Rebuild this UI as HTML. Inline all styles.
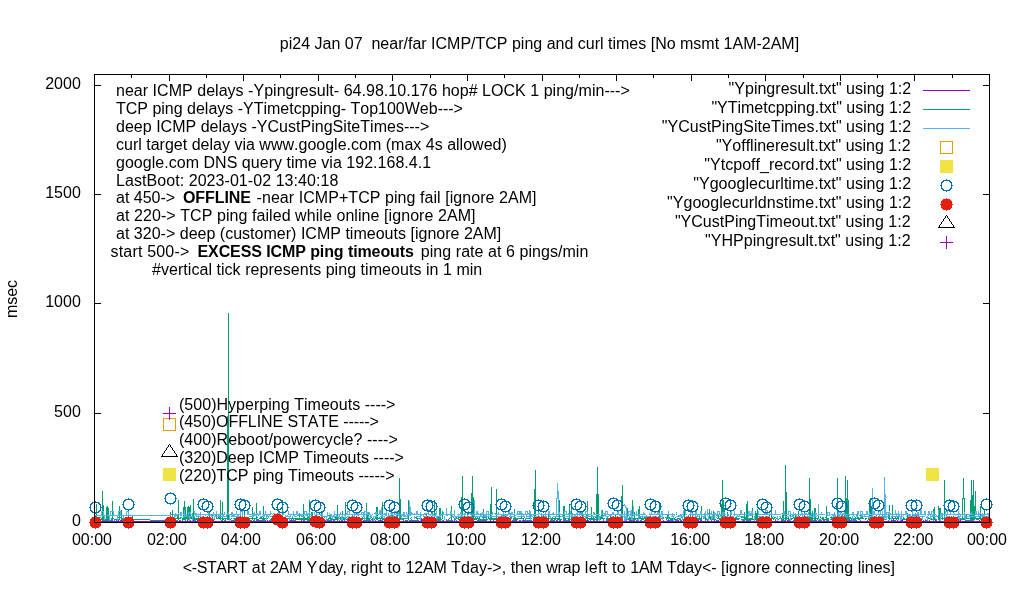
<!DOCTYPE html>
<html lang="en"><head><meta charset="utf-8"><title>pi24 ping plot</title>
<style>html,body{margin:0;padding:0;background:#fff}svg{display:block}text{font-family:"Liberation Sans",Arial,sans-serif;font-size:16px;fill:#000;font-kerning:none;font-variant-ligatures:none;white-space:pre}.b{font-weight:bold}</style></head><body>
<svg width="1020" height="600" viewBox="0 0 1020 600">
<rect x="0" y="0" width="1020" height="600" fill="#fff"/>
<g shape-rendering="crispEdges" stroke="#000" stroke-width="1" fill="none">
<path d="M94.5 523v-4M94.5 74v7M131.5 523v-4M131.5 74v4M169.5 523v-4M169.5 74v7M206.5 523v-4M206.5 74v4M243.5 523v-4M243.5 74v7M280.5 523v-4M280.5 74v4M318.5 523v-4M318.5 74v7M355.5 523v-4M355.5 74v4M392.5 523v-4M392.5 74v7M430.5 523v-4M430.5 74v4M467.5 523v-4M467.5 74v7M504.5 523v-4M504.5 74v4M542.5 523v-4M542.5 74v7M579.5 523v-4M579.5 74v4M616.5 523v-4M616.5 74v7M653.5 523v-4M653.5 74v4M691.5 523v-4M691.5 74v7M728.5 523v-4M728.5 74v4M765.5 523v-4M765.5 74v7M803.5 523v-4M803.5 74v4M840.5 523v-4M840.5 74v7M877.5 523v-4M877.5 74v4M914.5 523v-4M914.5 74v7M952.5 523v-4M952.5 74v4M989.5 523v-4M989.5 74v7M94 522.5h7M990 522.5h-7M94 413.5h7M990 413.5h-7M94 303.5h7M990 303.5h-7M94 194.5h7M990 194.5h-7M94 85.5h7M990 85.5h-7"/>
</g>
<g shape-rendering="crispEdges" fill="none" stroke-width="1">
<path d="M201.5 519V522M203.5 519V522M213.5 519V522M225.5 519V522M256.5 519V522M421.5 519V522M505.5 519V522M514.5 519V522M523.5 519V522M525.5 519V522M560.5 519V522M568.5 519V522M575.5 519V522M714.5 519V522M720.5 519V522M733.5 519V522M754.5 519V522M768.5 519V522M806.5 519V522M893.5 519V522M902.5 519V522M985.5 519V522M105 520.5H106M107 520.5H108M110 520.5H111M116 520.5H117M118 520.5H119M121 520.5H122M180 520.5H181M187 520.5H188M193 520.5H194M197 520.5H198M204 520.5H205M232 520.5H234M257 520.5H258M267 520.5H268M275 520.5H276M278 520.5H279M290 520.5H292M295 520.5H296M301 520.5H302M321 520.5H322M331 520.5H332M333 520.5H334M342 520.5H343M379 520.5H381M382 520.5H383M387 520.5H388M390 520.5H391M394 520.5H395M405 520.5H406M418 520.5H419M447 520.5H448M452 520.5H453M454 520.5H455M468 520.5H469M490 520.5H491M498 520.5H499M516 520.5H517M556 520.5H557M563 520.5H564M574 520.5H575M576 520.5H577M586 520.5H588M596 520.5H597M606 520.5H607M630 520.5H631M633 520.5H634M650 520.5H651M655 520.5H656M658 520.5H659M668 520.5H669M671 520.5H672M678 520.5H679M690 520.5H691M692 520.5H693M698 520.5H699M701 520.5H702M718 520.5H719M749 520.5H751M756 520.5H758M767 520.5H768M785 520.5H786M787 520.5H789M794 520.5H795M797 520.5H798M835 520.5H836M842 520.5H843M845 520.5H847M849 520.5H850M891 520.5H892M897 520.5H898M901 520.5H902M925 520.5H926M935 520.5H936M953 520.5H954M957 520.5H958M960 520.5H961M970 520.5H971M979 520.5H980M95 521.5H201M202 521.5H203M204 521.5H213M214 521.5H225M226 521.5H256M257 521.5H421M422 521.5H505M506 521.5H514M515 521.5H523M524 521.5H525M526 521.5H560M561 521.5H568M569 521.5H575M576 521.5H714M715 521.5H720M721 521.5H733M734 521.5H754M755 521.5H768M769 521.5H806M807 521.5H893M894 521.5H902M903 521.5H985M986 521.5H989" stroke="#9400d3"/>
<path d="M96.5 504V521M102.5 491V521M103.5 505V521M104.5 518V521M106.5 507V521M107.5 506V521M108.5 508V521M111.5 518V521M112.5 501V521M119.5 506V520M121.5 510V520M122.5 518V521M129.5 518V521M132.5 515V521M169.5 517V521M170.5 512V520M171.5 518V521M172.5 510V521M173.5 518V521M174.5 518V521M177.5 514V519M178.5 500V520M182.5 518V521M183.5 507V520M184.5 501V520M185.5 507V521M187.5 507V520M188.5 506V520M189.5 507V520M190.5 505V519M192.5 513V519M193.5 499V520M194.5 517V521M195.5 518V521M198.5 517V521M199.5 518V521M203.5 517V520M206.5 517V520M208.5 517V520M209.5 512V519M212.5 514V520M214.5 517V520M216.5 513V519M220.5 500V520M222.5 502V521M225.5 518V521M227.5 416V520M228.5 313V520M234.5 518V521M235.5 518V521M236.5 516V521M237.5 518V521M238.5 514V521M240.5 518V521M242.5 512V519M243.5 518V521M244.5 511V521M245.5 517V521M246.5 517V520M252.5 507V520M254.5 518V521M256.5 503V521M262.5 518V521M263.5 506V521M264.5 518V521M272.5 517V521M274.5 514V520M279.5 517V521M281.5 518V521M282.5 500V521M284.5 518V521M286.5 518V521M291.5 518V521M293.5 518V521M295.5 518V521M299.5 513V520M303.5 504V521M304.5 517V521M307.5 517V521M309.5 500V521M311.5 512V521M312.5 512V521M314.5 518V521M315.5 517V520M316.5 511V519M321.5 511V520M323.5 518V521M328.5 518V521M329.5 515V519M330.5 514V521M331.5 518V521M335.5 517V520M336.5 517V520M337.5 505V521M340.5 517V520M341.5 518V521M342.5 511V520M343.5 517V520M344.5 518V521M345.5 502V520M350.5 517V520M351.5 517V521M355.5 517V520M360.5 518V521M362.5 517V520M366.5 503V521M367.5 515V521M368.5 512V521M369.5 518V521M372.5 518V521M376.5 507V520M377.5 507V520M382.5 502V521M385.5 518V521M388.5 513V519M390.5 517V521M391.5 509V520M392.5 513V519M393.5 517V520M396.5 511V520M397.5 512V519M399.5 478V520M400.5 499V520M403.5 518V521M408.5 500V520M417.5 518V521M424.5 516V519M425.5 518V521M426.5 513V519M427.5 518V521M432.5 512V520M433.5 518V521M434.5 500V521M438.5 517V521M439.5 508V521M440.5 508V521M442.5 511V519M451.5 506V521M458.5 517V520M460.5 517V520M461.5 497V520M462.5 476V520M464.5 517V521M467.5 512V520M469.5 518V521M471.5 493V520M472.5 476V520M473.5 497V521M475.5 517V520M477.5 516V519M478.5 518V521M479.5 517V521M483.5 509V521M486.5 512V521M490.5 504V520M491.5 487V520M493.5 518V521M496.5 489V520M503.5 511V520M504.5 515V521M510.5 515V521M513.5 518V521M514.5 509V521M515.5 517V521M521.5 515V519M525.5 518V521M530.5 512V519M534.5 489V521M535.5 470V521M537.5 517V521M538.5 510V519M541.5 513V519M543.5 515V520M544.5 517V521M545.5 518V521M546.5 517V521M547.5 518V521M548.5 515V519M551.5 518V521M552.5 517V521M554.5 518V521M555.5 516V520M557.5 518V521M559.5 500V521M563.5 506V521M564.5 506V521M565.5 518V521M568.5 518V521M569.5 504V521M571.5 508V519M572.5 516V519M573.5 517V521M574.5 518V521M576.5 518V521M581.5 518V521M582.5 511V521M586.5 514V519M587.5 501V520M590.5 518V521M591.5 507V520M593.5 517V521M594.5 518V521M596.5 494V521M597.5 467V521M598.5 494V520M600.5 517V520M601.5 511V519M602.5 510V519M603.5 518V521M606.5 518V521M607.5 517V521M610.5 515V520M615.5 515V520M618.5 518V521M621.5 496V520M622.5 485V521M624.5 518V521M625.5 518V521M626.5 518V521M627.5 508V520M629.5 517V521M630.5 517V520M631.5 514V521M632.5 500V521M633.5 518V521M634.5 512V521M637.5 518V521M638.5 509V521M639.5 506V519M641.5 518V521M642.5 517V520M644.5 516V519M646.5 516V519M649.5 517V521M650.5 517V521M659.5 502V521M667.5 515V519M668.5 511V520M670.5 518V521M671.5 518V521M672.5 518V521M677.5 518V521M680.5 518V521M684.5 510V520M690.5 512V520M692.5 512V519M695.5 518V521M696.5 516V520M699.5 517V520M700.5 518V521M701.5 506V520M704.5 516V519M705.5 514V521M708.5 518V521M709.5 509V519M710.5 517V520M711.5 516V521M713.5 511V520M718.5 514V519M721.5 504V520M722.5 480V520M723.5 500V520M724.5 509V521M727.5 512V521M729.5 518V521M730.5 512V520M732.5 517V520M735.5 517V520M736.5 517V520M744.5 512V521M745.5 517V520M746.5 504V521M747.5 501V521M748.5 518V521M749.5 518V521M750.5 518V521M752.5 508V520M754.5 517V521M755.5 511V520M756.5 513V521M757.5 509V520M761.5 518V521M766.5 518V521M767.5 517V520M769.5 512V521M771.5 509V520M781.5 518V521M782.5 513V521M783.5 501V521M785.5 465V521M786.5 492V520M788.5 517V521M790.5 515V519M793.5 513V519M795.5 514V519M797.5 517V520M798.5 511V521M800.5 518V521M802.5 515V519M804.5 513V519M809.5 478V520M810.5 499V521M811.5 515V521M812.5 511V521M814.5 508V521M815.5 508V521M818.5 507V519M822.5 517V520M823.5 517V521M826.5 506V521M827.5 518V521M828.5 518V521M831.5 517V520M832.5 517V520M833.5 517V520M834.5 517V520M837.5 478V521M838.5 516V520M840.5 518V521M842.5 514V521M844.5 514V519M845.5 476V521M846.5 498V521M847.5 480V521M848.5 500V521M849.5 517V520M851.5 518V521M852.5 518V521M853.5 518V521M854.5 518V521M855.5 517V521M857.5 512V519M858.5 517V520M860.5 511V519M869.5 506V520M870.5 498V521M871.5 506V520M876.5 514V520M881.5 517V520M882.5 514V521M888.5 514V519M889.5 505V520M892.5 505V519M895.5 516V519M897.5 516V519M898.5 514V520M903.5 517V520M906.5 518V521M907.5 513V519M908.5 517V521M912.5 513V520M913.5 515V520M914.5 518V521M915.5 513V521M916.5 518V521M918.5 515V520M920.5 518V521M933.5 509V521M934.5 507V520M938.5 506V520M939.5 508V521M940.5 508V521M942.5 517V520M944.5 480V520M947.5 517V520M951.5 516V519M955.5 518V521M956.5 517V521M957.5 516V521M962.5 498V520M963.5 478V499M964.5 498V520M966.5 514V519M970.5 500V521M971.5 480V521M972.5 495V521M973.5 480V521M974.5 506V520M975.5 491V511M980.5 506V520M981.5 518V521M982.5 517V521M983.5 518V521M984.5 510V521M95 517.5H96M98 517.5H101M118 517.5H119M120 517.5H121M126 517.5H127M180 517.5H182M186 517.5H187M191 517.5H192M205 517.5H206M218 517.5H220M241 517.5H242M247 517.5H249M257 517.5H258M260 517.5H262M268 517.5H269M273 517.5H274M292 517.5H293M308 517.5H309M318 517.5H319M320 517.5H321M324 517.5H325M334 517.5H335M338 517.5H339M346 517.5H347M348 517.5H350M364 517.5H365M371 517.5H372M373 517.5H374M375 517.5H376M379 517.5H380M381 517.5H382M411 517.5H412M415 517.5H417M437 517.5H438M450 517.5H451M453 517.5H454M456 517.5H457M459 517.5H460M463 517.5H464M465 517.5H466M482 517.5H483M484 517.5H486M488 517.5H489M506 517.5H507M511 517.5H512M524 517.5H525M533 517.5H534M536 517.5H537M542 517.5H543M550 517.5H551M585 517.5H586M595 517.5H596M599 517.5H600M640 517.5H641M645 517.5H646M654 517.5H655M657 517.5H658M663 517.5H664M665 517.5H666M669 517.5H670M675 517.5H676M681 517.5H683M686 517.5H688M703 517.5H704M725 517.5H726M731 517.5H732M733 517.5H734M741 517.5H744M759 517.5H760M762 517.5H763M764 517.5H765M772 517.5H773M774 517.5H776M777 517.5H778M780 517.5H781M794 517.5H795M799 517.5H800M801 517.5H802M805 517.5H806M808 517.5H809M820 517.5H821M825 517.5H826M830 517.5H831M850 517.5H851M861 517.5H863M883 517.5H884M885 517.5H886M901 517.5H902M910 517.5H911M917 517.5H918M922 517.5H923M926 517.5H929M945 517.5H947M949 517.5H951M975 517.5H976M979 517.5H980M988 517.5H989M97 518.5H98M101 518.5H102M109 518.5H110M113 518.5H114M123 518.5H124M125 518.5H129M131 518.5H132M168 518.5H169M175 518.5H177M179 518.5H181M186 518.5H187M191 518.5H192M196 518.5H198M200 518.5H202M205 518.5H206M207 518.5H208M210 518.5H212M217 518.5H220M221 518.5H222M223 518.5H225M226 518.5H227M229 518.5H230M231 518.5H232M233 518.5H234M239 518.5H240M241 518.5H242M247 518.5H252M253 518.5H254M255 518.5H256M259 518.5H262M265 518.5H268M271 518.5H272M273 518.5H274M275 518.5H278M280 518.5H281M285 518.5H286M287 518.5H291M292 518.5H293M294 518.5H295M296 518.5H299M300 518.5H303M305 518.5H307M313 518.5H314M319 518.5H320M322 518.5H323M326 518.5H327M338 518.5H340M347 518.5H348M352 518.5H355M356 518.5H360M361 518.5H362M363 518.5H364M365 518.5H366M373 518.5H376M378 518.5H382M383 518.5H385M386 518.5H388M389 518.5H390M394 518.5H396M401 518.5H403M404 518.5H407M410 518.5H411M416 518.5H417M418 518.5H422M423 518.5H424M428 518.5H430M449 518.5H450M454 518.5H458M463 518.5H464M466 518.5H467M468 518.5H469M470 518.5H471M474 518.5H475M476 518.5H477M488 518.5H490M492 518.5H493M494 518.5H496M497 518.5H498M500 518.5H501M505 518.5H506M511 518.5H512M516 518.5H521M522 518.5H524M526 518.5H530M531 518.5H532M533 518.5H534M536 518.5H537M539 518.5H541M542 518.5H543M549 518.5H551M553 518.5H554M556 518.5H557M558 518.5H559M566 518.5H568M575 518.5H576M577 518.5H578M580 518.5H581M585 518.5H586M588 518.5H590M592 518.5H593M604 518.5H605M608 518.5H610M611 518.5H615M617 518.5H618M619 518.5H621M628 518.5H629M635 518.5H637M640 518.5H641M643 518.5H644M645 518.5H646M647 518.5H649M653 518.5H657M658 518.5H659M660 518.5H664M666 518.5H667M669 518.5H670M673 518.5H675M678 518.5H680M691 518.5H692M693 518.5H695M697 518.5H699M706 518.5H707M712 518.5H713M717 518.5H718M719 518.5H721M733 518.5H735M737 518.5H740M751 518.5H752M758 518.5H761M763 518.5H766M772 518.5H775M776 518.5H777M779 518.5H781M784 518.5H785M787 518.5H788M791 518.5H793M794 518.5H795M796 518.5H797M799 518.5H800M801 518.5H802M803 518.5H804M813 518.5H814M816 518.5H818M821 518.5H822M835 518.5H836M850 518.5H851M856 518.5H857M859 518.5H860M861 518.5H864M865 518.5H867M868 518.5H869M872 518.5H876M877 518.5H881M883 518.5H885M890 518.5H891M893 518.5H895M896 518.5H897M904 518.5H905M909 518.5H912M917 518.5H918M919 518.5H920M921 518.5H922M928 518.5H932M941 518.5H942M943 518.5H944M945 518.5H947M948 518.5H951M952 518.5H953M954 518.5H955M958 518.5H962M963 518.5H964M967 518.5H970M975 518.5H980M95 519.5H96M97 519.5H98M99 519.5H100M101 519.5H102M105 519.5H106M114 519.5H119M124 519.5H126M133 519.5H150M175 519.5H176M196 519.5H198M200 519.5H203M204 519.5H205M207 519.5H208M210 519.5H211M213 519.5H214M223 519.5H224M230 519.5H231M257 519.5H259M270 519.5H271M276 519.5H277M296 519.5H299M300 519.5H303M305 519.5H307M308 519.5H309M313 519.5H314M317 519.5H318M324 519.5H325M327 519.5H328M332 519.5H335M346 519.5H350M352 519.5H353M354 519.5H355M356 519.5H358M364 519.5H365M371 519.5H372M374 519.5H375M380 519.5H381M383 519.5H385M389 519.5H390M394 519.5H396M401 519.5H403M411 519.5H412M420 519.5H421M429 519.5H430M435 519.5H436M437 519.5H438M441 519.5H442M446 519.5H447M448 519.5H449M454 519.5H456M465 519.5H466M470 519.5H471M474 519.5H475M476 519.5H477M480 519.5H483M484 519.5H486M487 519.5H488M489 519.5H490M492 519.5H493M494 519.5H496M497 519.5H500M501 519.5H503M505 519.5H509M516 519.5H518M523 519.5H524M540 519.5H541M558 519.5H559M560 519.5H562M570 519.5H571M579 519.5H580M589 519.5H590M592 519.5H593M595 519.5H596M599 519.5H600M608 519.5H610M611 519.5H615M616 519.5H617M619 519.5H621M628 519.5H629M635 519.5H636M643 519.5H644M651 519.5H653M656 519.5H658M666 519.5H667M674 519.5H677M679 519.5H680M686 519.5H689M691 519.5H692M698 519.5H699M706 519.5H708M712 519.5H713M714 519.5H716M719 519.5H720M728 519.5H729M734 519.5H735M737 519.5H739M741 519.5H744M751 519.5H752M753 519.5H754M758 519.5H759M760 519.5H761M765 519.5H766M770 519.5H771M773 519.5H774M775 519.5H776M778 519.5H779M789 519.5H790M791 519.5H792M817 519.5H818M819 519.5H821M824 519.5H826M830 519.5H831M835 519.5H837M839 519.5H840M843 519.5H844M859 519.5H860M865 519.5H866M868 519.5H869M873 519.5H874M875 519.5H876M877 519.5H881M884 519.5H887M891 519.5H892M896 519.5H897M902 519.5H903M904 519.5H906M909 519.5H910M911 519.5H912M921 519.5H923M925 519.5H926M930 519.5H933M935 519.5H937M948 519.5H949M958 519.5H962M963 519.5H964M976 519.5H979M985 519.5H989M95 520.5H96M98 520.5H101M105 520.5H106M109 520.5H111M114 520.5H115M116 520.5H117M120 520.5H121M123 520.5H125M127 520.5H129M131 520.5H132M150 520.5H169M176 520.5H178M179 520.5H181M190 520.5H191M192 520.5H193M205 520.5H206M211 520.5H212M221 520.5H222M224 520.5H225M231 520.5H234M242 520.5H243M249 520.5H252M253 520.5H254M258 520.5H262M265 520.5H266M269 520.5H272M273 520.5H274M275 520.5H276M277 520.5H278M280 520.5H281M283 520.5H284M287 520.5H288M292 520.5H293M294 520.5H295M308 520.5H309M310 520.5H311M318 520.5H319M320 520.5H321M325 520.5H326M327 520.5H328M329 520.5H330M333 520.5H335M339 520.5H340M348 520.5H350M363 520.5H366M370 520.5H371M373 520.5H374M375 520.5H376M378 520.5H380M381 520.5H382M386 520.5H389M392 520.5H393M397 520.5H398M405 520.5H408M409 520.5H417M418 520.5H419M423 520.5H424M426 520.5H427M428 520.5H429M435 520.5H436M437 520.5H438M442 520.5H444M446 520.5H451M452 520.5H453M456 520.5H457M465 520.5H467M477 520.5H478M480 520.5H483M484 520.5H486M498 520.5H499M502 520.5H503M506 520.5H507M512 520.5H513M519 520.5H521M522 520.5H523M524 520.5H525M526 520.5H532M536 520.5H537M538 520.5H540M541 520.5H542M548 520.5H549M550 520.5H551M553 520.5H554M566 520.5H568M572 520.5H573M577 520.5H580M583 520.5H584M585 520.5H587M588 520.5H589M636 520.5H637M640 520.5H641M644 520.5H649M651 520.5H653M660 520.5H661M663 520.5H664M667 520.5H668M669 520.5H670M673 520.5H674M675 520.5H677M681 520.5H682M683 520.5H684M692 520.5H695M707 520.5H708M716 520.5H718M725 520.5H727M728 520.5H729M733 520.5H734M742 520.5H744M759 520.5H760M763 520.5H765M768 520.5H769M775 520.5H776M784 520.5H785M789 520.5H790M793 520.5H795M799 520.5H800M801 520.5H804M808 520.5H809M813 520.5H814M816 520.5H817M818 520.5H822M824 520.5H825M836 520.5H837M843 520.5H845M850 520.5H851M856 520.5H857M860 520.5H861M867 520.5H868M888 520.5H889M892 520.5H893M894 520.5H896M907 520.5H908M917 520.5H918M923 520.5H924M926 520.5H927M929 520.5H930M936 520.5H937M950 520.5H952M953 520.5H954M965 520.5H970M985 520.5H987" stroke="#009e73"/>
<path d="M101.5 511V516M103.5 511V516M104.5 515V520M109.5 515V521M110.5 511V516M113.5 511V516M117.5 515V521M118.5 511V516M120.5 511V516M123.5 515V519M126.5 511V516M128.5 511V516M174.5 514V521M175.5 513V517M180.5 512V516M181.5 512V516M184.5 510V517M186.5 514V517M188.5 512V515M189.5 516V521M190.5 512V515M192.5 516V521M194.5 511V515M195.5 513V516M196.5 513V517M198.5 514V517M200.5 512V520M202.5 516V520M208.5 511V516M211.5 514V517M213.5 512V516M214.5 516V519M215.5 514V517M216.5 511V515M218.5 514V517M219.5 514V517M222.5 514V517M223.5 514V517M224.5 512V515M226.5 514V517M228.5 512V515M229.5 514V521M231.5 512V517M232.5 512V517M233.5 514V517M234.5 514V517M236.5 511V515M237.5 514V517M238.5 514V517M240.5 511V516M242.5 511V516M247.5 511V515M248.5 511V515M252.5 514V517M253.5 513V517M254.5 512V516M256.5 513V516M259.5 511V515M260.5 511V515M263.5 514V517M264.5 514V517M265.5 511V515M266.5 514V520M267.5 514V517M270.5 511V515M275.5 514V517M277.5 514V517M278.5 511V515M279.5 511V515M283.5 511V515M288.5 511V515M289.5 516V521M290.5 514V517M293.5 511V516M294.5 514V517M296.5 511V515M297.5 511V516M301.5 514V517M302.5 514V517M304.5 511V515M306.5 511V516M307.5 513V517M309.5 512V515M314.5 512V515M318.5 516V521M322.5 511V517M326.5 516V521M327.5 512V517M331.5 514V517M332.5 516V519M334.5 511V517M336.5 514V517M338.5 516V520M339.5 514V517M340.5 512V515M341.5 516V520M342.5 514V520M345.5 514V520M347.5 511V515M349.5 511V515M349.5 516V519M352.5 514V517M354.5 512V517M357.5 513V516M358.5 513V516M361.5 512V515M363.5 512V517M364.5 511V520M366.5 511V515M367.5 512V515M369.5 512V515M370.5 514V519M373.5 516V521M375.5 512V515M376.5 512V515M379.5 510V515M380.5 510V515M381.5 507V517M382.5 514V517M384.5 516V519M385.5 513V516M386.5 511V516M388.5 514V517M394.5 511V515M395.5 516V521M396.5 511V516M398.5 511V516M401.5 514V520M403.5 512V517M404.5 512V517M406.5 512V515M407.5 514V519M409.5 501V516M410.5 507V516M411.5 512V515M414.5 516V519M416.5 511V515M417.5 511V515M420.5 512V521M423.5 514V517M428.5 511V515M431.5 511V515M432.5 514V517M435.5 513V517M436.5 511V515M436.5 516V521M440.5 514V517M443.5 512V515M444.5 516V520M446.5 508V516M450.5 511V516M451.5 511V515M452.5 514V517M454.5 510V517M455.5 516V519M458.5 514V517M460.5 512V515M461.5 512V515M461.5 516V521M462.5 514V517M464.5 513V517M465.5 512V515M468.5 511V515M471.5 514V517M474.5 500V517M476.5 511V515M477.5 511V515M480.5 513V517M481.5 513V517M482.5 512V515M483.5 512V515M484.5 514V517M485.5 514V517M486.5 511V517M488.5 511V517M491.5 514V517M492.5 512V515M498.5 512V515M502.5 514V520M503.5 512V515M504.5 514V517M506.5 514V517M508.5 511V515M509.5 511V515M510.5 513V517M511.5 512V515M512.5 512V515M517.5 511V515M519.5 511V515M520.5 511V515M521.5 511V517M523.5 514V517M525.5 511V515M526.5 514V519M527.5 511V515M529.5 510V518M530.5 511V515M530.5 516V520M531.5 514V517M536.5 516V520M538.5 511V517M542.5 516V520M545.5 512V517M546.5 516V520M548.5 511V515M549.5 511V517M550.5 516V520M553.5 512V515M556.5 498V517M557.5 483V499M558.5 491V517M559.5 512V515M562.5 514V517M564.5 511V515M566.5 511V515M570.5 511V515M571.5 514V517M572.5 513V517M574.5 514V517M575.5 514V517M577.5 512V517M579.5 512V516M580.5 516V521M581.5 512V516M583.5 514V517M585.5 511V515M585.5 516V520M587.5 511V515M588.5 514V517M593.5 512V515M594.5 512V515M598.5 516V520M599.5 516V521M601.5 510V515M604.5 513V516M605.5 511V517M607.5 511V515M612.5 512V515M612.5 516V519M613.5 512V515M617.5 511V515M618.5 511V515M620.5 514V521M624.5 511V521M625.5 505V508M625.5 516V521M626.5 507V519M627.5 516V520M628.5 511V516M630.5 511V516M631.5 510V520M632.5 516V520M633.5 506V516M636.5 511V516M638.5 514V521M642.5 514V517M643.5 512V515M649.5 516V521M650.5 514V517M651.5 511V515M654.5 512V515M657.5 512V515M658.5 512V515M660.5 514V519M661.5 511V515M662.5 511V520M668.5 511V515M672.5 513V517M673.5 516V521M676.5 512V515M680.5 514V517M681.5 514V517M682.5 516V520M683.5 510V517M685.5 510V515M690.5 512V515M692.5 512V516M695.5 510V517M696.5 510V515M697.5 514V517M699.5 514V517M700.5 511V515M701.5 511V517M703.5 516V519M704.5 513V519M705.5 511V516M707.5 509V516M708.5 516V521M711.5 511V515M711.5 516V520M712.5 514V519M714.5 512V519M717.5 511V517M719.5 511V515M720.5 514V517M722.5 512V516M723.5 516V521M724.5 512V515M730.5 511V515M731.5 511V515M731.5 516V521M734.5 511V516M737.5 514V517M739.5 514V517M740.5 510V515M741.5 510V515M748.5 511V517M749.5 511V516M750.5 513V516M751.5 511V516M752.5 511V515M754.5 516V521M758.5 511V515M765.5 510V515M765.5 516V521M767.5 510V515M769.5 511V515M775.5 510V515M777.5 516V521M783.5 511V515M784.5 511V516M788.5 511V515M790.5 511V515M790.5 516V521M792.5 514V517M793.5 512V515M796.5 514V517M801.5 512V515M802.5 513V521M804.5 516V521M807.5 514V517M808.5 512V515M813.5 513V517M815.5 512V517M818.5 504V516M821.5 512V515M827.5 512V516M829.5 512V516M833.5 514V517M834.5 512V517M835.5 514V517M838.5 512V517M839.5 514V517M840.5 512V515M841.5 514V517M843.5 516V521M844.5 510V515M845.5 514V517M852.5 512V515M852.5 516V521M853.5 512V516M856.5 514V517M857.5 511V515M858.5 511V515M860.5 511V515M861.5 514V517M862.5 511V517M864.5 514V517M866.5 511V515M867.5 511V515M869.5 512V515M869.5 516V519M872.5 488V517M873.5 511V515M874.5 511V515M878.5 511V515M879.5 514V517M880.5 511V515M882.5 511V515M884.5 477V520M885.5 494V518M886.5 512V515M886.5 516V520M888.5 512V515M889.5 511V515M891.5 516V520M895.5 510V515M896.5 513V517M898.5 511V517M899.5 514V517M900.5 516V521M901.5 511V520M905.5 511V515M906.5 511V515M908.5 514V517M909.5 514V517M910.5 514V517M912.5 511V515M913.5 514V517M914.5 514V517M916.5 514V520M917.5 512V520M918.5 512V515M920.5 510V515M921.5 510V515M922.5 516V520M924.5 511V515M925.5 511V516M927.5 516V521M928.5 511V516M929.5 511V515M930.5 514V520M931.5 511V515M932.5 514V517M933.5 511V517M938.5 510V515M940.5 513V521M941.5 513V517M942.5 513V517M945.5 511V515M946.5 514V517M947.5 511V515M950.5 512V515M958.5 511V521M959.5 516V521M960.5 514V517M964.5 512V519M965.5 514V520M969.5 514V517M971.5 512V515M975.5 511V515M976.5 511V515M978.5 511V517M981.5 514V517M982.5 513V517M983.5 514V520M984.5 514V517M988.5 513V517M624 504.5H625M624 505.5H625M684 510.5H685M766 510.5H767M102 511.5H103M111 511.5H113M119 511.5H120M127 511.5H128M241 511.5H242M305 511.5H306M348 511.5H349M365 511.5H366M395 511.5H396M487 511.5H488M518 511.5H519M526 511.5H527M565 511.5H566M586 511.5H587M606 511.5H607M629 511.5H630M718 511.5H719M789 511.5H790M861 511.5H862M879 511.5H880M932 511.5H933M946 511.5H947M189 512.5H190M362 512.5H363M368 512.5H369M578 512.5H579M691 512.5H692M723 512.5H724M828 512.5H829M839 512.5H840M887 512.5H888M178 513.5H179M221 513.5H222M257 513.5H258M271 513.5H272M273 513.5H275M308 513.5H309M316 513.5H317M329 513.5H330M346 513.5H347M355 513.5H357M374 513.5H375M384 513.5H385M390 513.5H393M412 513.5H413M414 513.5H415M424 513.5H428M469 513.5H471M478 513.5H479M494 513.5H496M514 513.5H515M518 513.5H519M522 513.5H523M528 513.5H529M539 513.5H540M541 513.5H542M552 513.5H553M568 513.5H569M576 513.5H577M580 513.5H581M602 513.5H604M644 513.5H645M649 513.5H650M659 513.5H660M708 513.5H709M710 513.5H711M715 513.5H716M764 513.5H765M795 513.5H796M804 513.5H807M811 513.5H812M816 513.5H817M842 513.5H844M890 513.5H891M954 513.5H955M959 513.5H960M970 513.5H971M979 513.5H981M987 513.5H988M171 514.5H172M173 514.5H174M176 514.5H180M183 514.5H184M185 514.5H186M191 514.5H193M197 514.5H198M199 514.5H200M201 514.5H208M209 514.5H211M212 514.5H213M214 514.5H215M217 514.5H218M220 514.5H222M227 514.5H228M230 514.5H231M235 514.5H236M239 514.5H240M249 514.5H252M255 514.5H256M257 514.5H259M262 514.5H263M268 514.5H270M272 514.5H273M276 514.5H277M280 514.5H281M282 514.5H283M289 514.5H290M291 514.5H293M295 514.5H296M298 514.5H301M303 514.5H304M305 514.5H306M308 514.5H309M310 514.5H312M316 514.5H322M330 514.5H331M335 514.5H336M337 514.5H339M341 514.5H342M343 514.5H345M346 514.5H347M348 514.5H349M350 514.5H352M353 514.5H354M355 514.5H357M359 514.5H361M362 514.5H363M365 514.5H366M368 514.5H369M372 514.5H373M377 514.5H379M383 514.5H385M391 514.5H393M395 514.5H396M397 514.5H398M399 514.5H401M402 514.5H403M408 514.5H409M412 514.5H416M418 514.5H420M421 514.5H423M424 514.5H426M429 514.5H431M433 514.5H434M441 514.5H443M444 514.5H446M447 514.5H450M453 514.5H454M457 514.5H458M459 514.5H460M463 514.5H464M470 514.5H471M472 514.5H474M475 514.5H476M478 514.5H480M487 514.5H488M489 514.5H491M495 514.5H498M499 514.5H502M505 514.5H506M507 514.5H508M513 514.5H515M516 514.5H517M518 514.5H519M522 514.5H523M524 514.5H525M528 514.5H529M532 514.5H538M540 514.5H545M546 514.5H548M550 514.5H553M554 514.5H556M557 514.5H558M560 514.5H562M563 514.5H564M565 514.5H566M567 514.5H570M573 514.5H574M576 514.5H577M578 514.5H579M580 514.5H581M582 514.5H583M584 514.5H585M586 514.5H587M589 514.5H592M595 514.5H600M606 514.5H607M608 514.5H612M614 514.5H617M619 514.5H620M621 514.5H624M625 514.5H626M627 514.5H628M629 514.5H630M632 514.5H633M634 514.5H636M637 514.5H638M639 514.5H642M644 514.5H646M649 514.5H650M652 514.5H654M655 514.5H657M659 514.5H660M663 514.5H668M669 514.5H672M673 514.5H675M682 514.5H683M686 514.5H687M689 514.5H690M691 514.5H692M693 514.5H695M698 514.5H699M702 514.5H704M706 514.5H707M708 514.5H711M713 514.5H714M715 514.5H717M718 514.5H719M721 514.5H722M723 514.5H724M725 514.5H726M727 514.5H729M733 514.5H734M735 514.5H737M738 514.5H739M742 514.5H748M753 514.5H755M759 514.5H765M766 514.5H767M768 514.5H769M770 514.5H775M776 514.5H781M782 514.5H783M785 514.5H788M791 514.5H792M794 514.5H796M797 514.5H801M803 514.5H807M811 514.5H813M814 514.5H815M816 514.5H817M819 514.5H821M822 514.5H825M826 514.5H827M830 514.5H833M837 514.5H838M842 514.5H844M846 514.5H852M854 514.5H856M863 514.5H864M865 514.5H866M868 514.5H869M870 514.5H872M875 514.5H878M881 514.5H882M883 514.5H884M887 514.5H888M890 514.5H895M897 514.5H898M900 514.5H901M902 514.5H905M907 514.5H908M915 514.5H916M919 514.5H920M922 514.5H924M927 514.5H928M934 514.5H936M943 514.5H945M948 514.5H950M951 514.5H958M959 514.5H960M961 514.5H964M966 514.5H969M970 514.5H971M972 514.5H974M977 514.5H978M979 514.5H980M985 514.5H988M95 515.5H101M102 515.5H103M105 515.5H109M111 515.5H113M114 515.5H117M119 515.5H120M121 515.5H123M124 515.5H126M127 515.5H128M129 515.5H171M176 515.5H178M187 515.5H188M205 515.5H206M210 515.5H211M244 515.5H245M255 515.5H256M258 515.5H259M269 515.5H270M274 515.5H275M282 515.5H283M285 515.5H286M287 515.5H288M298 515.5H299M300 515.5H301M305 515.5H306M320 515.5H322M328 515.5H329M333 515.5H334M344 515.5H345M371 515.5H372M389 515.5H391M393 515.5H394M402 515.5H403M405 515.5H406M408 515.5H409M421 515.5H422M430 515.5H431M433 515.5H435M439 515.5H440M441 515.5H442M447 515.5H448M467 515.5H468M501 515.5H502M505 515.5H506M507 515.5H508M515 515.5H516M533 515.5H534M592 515.5H593M603 515.5H604M609 515.5H612M619 515.5H620M621 515.5H623M637 515.5H638M646 515.5H647M674 515.5H675M678 515.5H680M688 515.5H689M693 515.5H694M716 515.5H717M728 515.5H729M789 515.5H790M800 515.5H801M809 515.5H811M817 515.5H818M828 515.5H829M832 515.5H833M849 515.5H850M859 515.5H860M903 515.5H904M936 515.5H937M955 515.5H956M962 515.5H963M183 516.5H184M185 516.5H186M188 516.5H189M190 516.5H192M194 516.5H195M197 516.5H198M199 516.5H200M207 516.5H208M212 516.5H213M216 516.5H218M220 516.5H222M224 516.5H226M235 516.5H237M239 516.5H240M249 516.5H252M260 516.5H263M268 516.5H269M270 516.5H274M276 516.5H277M278 516.5H280M285 516.5H289M292 516.5H293M295 516.5H297M303 516.5H305M308 516.5H312M314 516.5H318M319 516.5H320M323 516.5H326M329 516.5H331M333 516.5H334M335 516.5H336M337 516.5H338M347 516.5H349M351 516.5H352M353 516.5H354M356 516.5H357M361 516.5H362M366 516.5H367M368 516.5H370M371 516.5H372M374 516.5H378M380 516.5H381M383 516.5H384M387 516.5H388M389 516.5H392M393 516.5H395M399 516.5H400M405 516.5H407M416 516.5H420M424 516.5H430M431 516.5H432M434 516.5H435M437 516.5H440M453 516.5H454M456 516.5H458M459 516.5H461M463 516.5H464M465 516.5H471M475 516.5H480M482 516.5H484M487 516.5H488M489 516.5H491M492 516.5H501M503 516.5H504M509 516.5H510M511 516.5H515M517 516.5H521M522 516.5H523M524 516.5H525M527 516.5H529M532 516.5H533M535 516.5H536M537 516.5H538M539 516.5H540M543 516.5H545M553 516.5H556M557 516.5H558M560 516.5H562M563 516.5H571M573 516.5H574M576 516.5H577M584 516.5H585M586 516.5H588M589 516.5H597M600 516.5H604M606 516.5H609M623 516.5H624M629 516.5H630M639 516.5H642M643 516.5H649M652 516.5H657M658 516.5H659M661 516.5H662M668 516.5H669M671 516.5H672M676 516.5H680M686 516.5H688M696 516.5H697M698 516.5H699M702 516.5H703M710 516.5H711M713 516.5H714M715 516.5H716M719 516.5H720M721 516.5H722M724 516.5H728M729 516.5H731M732 516.5H734M736 516.5H737M738 516.5H739M740 516.5H744M758 516.5H762M763 516.5H764M767 516.5H770M773 516.5H774M779 516.5H781M786 516.5H789M791 516.5H792M793 516.5H794M797 516.5H800M803 516.5H804M805 516.5H807M808 516.5H813M814 516.5H815M816 516.5H817M820 516.5H821M831 516.5H832M836 516.5H838M840 516.5H841M846 516.5H848M854 516.5H855M857 516.5H858M860 516.5H861M863 516.5H864M865 516.5H869M870 516.5H872M873 516.5H877M880 516.5H884M887 516.5H889M892 516.5H896M897 516.5H898M902 516.5H903M906 516.5H907M912 516.5H913M915 516.5H916M918 516.5H922M923 516.5H925M931 516.5H932M934 516.5H938M939 516.5H940M944 516.5H945M947 516.5H950M953 516.5H954M957 516.5H958M966 516.5H969M970 516.5H978M979 516.5H981M985 516.5H988M244 517.5H245M299 517.5H300M313 517.5H314M321 517.5H322M344 517.5H345M368 517.5H369M397 517.5H398M428 517.5H429M630 517.5H631M666 517.5H667M716 517.5H717M868 517.5H869M945 517.5H946M308 518.5H309M353 518.5H354M374 518.5H375M425 518.5H426M437 518.5H438M466 518.5H467M500 518.5H501M508 518.5H509M525 518.5H526M567 518.5H568M579 518.5H580M668 518.5H669M695 518.5H696M733 518.5H734M762 518.5H763M768 518.5H769M780 518.5H781M782 518.5H783M793 518.5H794M835 518.5H836M837 518.5H838M854 518.5H855M882 518.5H883M909 518.5H910M918 518.5H919M921 518.5H922M935 518.5H936M961 518.5H962" stroke="#56b4e9"/>
</g>
<rect x="163.5" y="418.5" width="12" height="12" fill="none" stroke="#e69f00" stroke-width="1" shape-rendering="crispEdges"/>
<rect x="163.0" y="468.0" width="13" height="13" fill="#f0e442" shape-rendering="crispEdges"/>
<rect x="926.0" y="468.0" width="13" height="13" fill="#f0e442" shape-rendering="crispEdges"/>
<path d="M99 502L99 503L100 503L100 504L101 504L101 505L101 505L101 506L101 506L101 507L101 507L101 508L101 508L101 509L101 509L101 510L101 510L101 511L100 511L100 512L99 512L99 513L92 513L92 512L91 512L91 511L90 511L90 510L90 510L90 509L90 509L90 508L90 508L90 507L90 507L90 506L90 506L90 505L90 505L90 504L91 504L91 503L92 503L92 502ZM98 503L98 504L99 504L99 505L100 505L100 506L100 506L100 507L100 507L100 508L100 508L100 509L100 509L100 510L99 510L99 511L98 511L98 512L93 512L93 511L92 511L92 510L91 510L91 509L91 509L91 508L91 508L91 507L91 507L91 506L91 506L91 505L92 505L92 504L93 504L93 503ZM89 507h1v1h-1zM101 507h1v1h-1zM95 501h1v1h-1zM95 513h1v1h-1z" fill="#0072b2" fill-rule="evenodd" shape-rendering="crispEdges"/>
<path d="M132 499L132 500L133 500L133 501L134 501L134 502L134 502L134 503L134 503L134 504L134 504L134 505L134 505L134 506L134 506L134 507L134 507L134 508L133 508L133 509L132 509L132 510L125 510L125 509L124 509L124 508L123 508L123 507L123 507L123 506L123 506L123 505L123 505L123 504L123 504L123 503L123 503L123 502L123 502L123 501L124 501L124 500L125 500L125 499ZM131 500L131 501L132 501L132 502L133 502L133 503L133 503L133 504L133 504L133 505L133 505L133 506L133 506L133 507L132 507L132 508L131 508L131 509L126 509L126 508L125 508L125 507L124 507L124 506L124 506L124 505L124 505L124 504L124 504L124 503L124 503L124 502L125 502L125 501L126 501L126 500ZM122 504h1v1h-1zM134 504h1v1h-1zM128 498h1v1h-1zM128 510h1v1h-1z" fill="#0072b2" fill-rule="evenodd" shape-rendering="crispEdges"/>
<path d="M174 493L174 494L175 494L175 495L176 495L176 496L176 496L176 497L176 497L176 498L176 498L176 499L176 499L176 500L176 500L176 501L176 501L176 502L175 502L175 503L174 503L174 504L167 504L167 503L166 503L166 502L165 502L165 501L165 501L165 500L165 500L165 499L165 499L165 498L165 498L165 497L165 497L165 496L165 496L165 495L166 495L166 494L167 494L167 493ZM173 494L173 495L174 495L174 496L175 496L175 497L175 497L175 498L175 498L175 499L175 499L175 500L175 500L175 501L174 501L174 502L173 502L173 503L168 503L168 502L167 502L167 501L166 501L166 500L166 500L166 499L166 499L166 498L166 498L166 497L166 497L166 496L167 496L167 495L168 495L168 494ZM164 498h1v1h-1zM176 498h1v1h-1zM170 492h1v1h-1zM170 504h1v1h-1z" fill="#0072b2" fill-rule="evenodd" shape-rendering="crispEdges"/>
<path d="M207 499L207 500L208 500L208 501L209 501L209 502L209 502L209 503L209 503L209 504L209 504L209 505L209 505L209 506L209 506L209 507L209 507L209 508L208 508L208 509L207 509L207 510L200 510L200 509L199 509L199 508L198 508L198 507L198 507L198 506L198 506L198 505L198 505L198 504L198 504L198 503L198 503L198 502L198 502L198 501L199 501L199 500L200 500L200 499ZM206 500L206 501L207 501L207 502L208 502L208 503L208 503L208 504L208 504L208 505L208 505L208 506L208 506L208 507L207 507L207 508L206 508L206 509L201 509L201 508L200 508L200 507L199 507L199 506L199 506L199 505L199 505L199 504L199 504L199 503L199 503L199 502L200 502L200 501L201 501L201 500ZM197 504h1v1h-1zM209 504h1v1h-1zM203 498h1v1h-1zM203 510h1v1h-1z" fill="#0072b2" fill-rule="evenodd" shape-rendering="crispEdges"/>
<path d="M211 501L211 502L212 502L212 503L213 503L213 504L213 504L213 505L213 505L213 506L213 506L213 507L213 507L213 508L213 508L213 509L213 509L213 510L212 510L212 511L211 511L211 512L204 512L204 511L203 511L203 510L202 510L202 509L202 509L202 508L202 508L202 507L202 507L202 506L202 506L202 505L202 505L202 504L202 504L202 503L203 503L203 502L204 502L204 501ZM210 502L210 503L211 503L211 504L212 504L212 505L212 505L212 506L212 506L212 507L212 507L212 508L212 508L212 509L211 509L211 510L210 510L210 511L205 511L205 510L204 510L204 509L203 509L203 508L203 508L203 507L203 507L203 506L203 506L203 505L203 505L203 504L204 504L204 503L205 503L205 502ZM201 506h1v1h-1zM213 506h1v1h-1zM207 500h1v1h-1zM207 512h1v1h-1z" fill="#0072b2" fill-rule="evenodd" shape-rendering="crispEdges"/>
<path d="M244 499L244 500L245 500L245 501L246 501L246 502L246 502L246 503L246 503L246 504L246 504L246 505L246 505L246 506L246 506L246 507L246 507L246 508L245 508L245 509L244 509L244 510L237 510L237 509L236 509L236 508L235 508L235 507L235 507L235 506L235 506L235 505L235 505L235 504L235 504L235 503L235 503L235 502L235 502L235 501L236 501L236 500L237 500L237 499ZM243 500L243 501L244 501L244 502L245 502L245 503L245 503L245 504L245 504L245 505L245 505L245 506L245 506L245 507L244 507L244 508L243 508L243 509L238 509L238 508L237 508L237 507L236 507L236 506L236 506L236 505L236 505L236 504L236 504L236 503L236 503L236 502L237 502L237 501L238 501L238 500ZM234 504h1v1h-1zM246 504h1v1h-1zM240 498h1v1h-1zM240 510h1v1h-1z" fill="#0072b2" fill-rule="evenodd" shape-rendering="crispEdges"/>
<path d="M248 500L248 501L249 501L249 502L250 502L250 503L250 503L250 504L250 504L250 505L250 505L250 506L250 506L250 507L250 507L250 508L250 508L250 509L249 509L249 510L248 510L248 511L241 511L241 510L240 510L240 509L239 509L239 508L239 508L239 507L239 507L239 506L239 506L239 505L239 505L239 504L239 504L239 503L239 503L239 502L240 502L240 501L241 501L241 500ZM247 501L247 502L248 502L248 503L249 503L249 504L249 504L249 505L249 505L249 506L249 506L249 507L249 507L249 508L248 508L248 509L247 509L247 510L242 510L242 509L241 509L241 508L240 508L240 507L240 507L240 506L240 506L240 505L240 505L240 504L240 504L240 503L241 503L241 502L242 502L242 501ZM238 505h1v1h-1zM250 505h1v1h-1zM244 499h1v1h-1zM244 511h1v1h-1z" fill="#0072b2" fill-rule="evenodd" shape-rendering="crispEdges"/>
<path d="M281 499L281 500L282 500L282 501L283 501L283 502L283 502L283 503L283 503L283 504L283 504L283 505L283 505L283 506L283 506L283 507L283 507L283 508L282 508L282 509L281 509L281 510L274 510L274 509L273 509L273 508L272 508L272 507L272 507L272 506L272 506L272 505L272 505L272 504L272 504L272 503L272 503L272 502L272 502L272 501L273 501L273 500L274 500L274 499ZM280 500L280 501L281 501L281 502L282 502L282 503L282 503L282 504L282 504L282 505L282 505L282 506L282 506L282 507L281 507L281 508L280 508L280 509L275 509L275 508L274 508L274 507L273 507L273 506L273 506L273 505L273 505L273 504L273 504L273 503L273 503L273 502L274 502L274 501L275 501L275 500ZM271 504h1v1h-1zM283 504h1v1h-1zM277 498h1v1h-1zM277 510h1v1h-1z" fill="#0072b2" fill-rule="evenodd" shape-rendering="crispEdges"/>
<path d="M286 502L286 503L287 503L287 504L288 504L288 505L288 505L288 506L288 506L288 507L288 507L288 508L288 508L288 509L288 509L288 510L288 510L288 511L287 511L287 512L286 512L286 513L279 513L279 512L278 512L278 511L277 511L277 510L277 510L277 509L277 509L277 508L277 508L277 507L277 507L277 506L277 506L277 505L277 505L277 504L278 504L278 503L279 503L279 502ZM285 503L285 504L286 504L286 505L287 505L287 506L287 506L287 507L287 507L287 508L287 508L287 509L287 509L287 510L286 510L286 511L285 511L285 512L280 512L280 511L279 511L279 510L278 510L278 509L278 509L278 508L278 508L278 507L278 507L278 506L278 506L278 505L279 505L279 504L280 504L280 503ZM276 507h1v1h-1zM288 507h1v1h-1zM282 501h1v1h-1zM282 513h1v1h-1z" fill="#0072b2" fill-rule="evenodd" shape-rendering="crispEdges"/>
<path d="M319 500L319 501L320 501L320 502L321 502L321 503L321 503L321 504L321 504L321 505L321 505L321 506L321 506L321 507L321 507L321 508L321 508L321 509L320 509L320 510L319 510L319 511L312 511L312 510L311 510L311 509L310 509L310 508L310 508L310 507L310 507L310 506L310 506L310 505L310 505L310 504L310 504L310 503L310 503L310 502L311 502L311 501L312 501L312 500ZM318 501L318 502L319 502L319 503L320 503L320 504L320 504L320 505L320 505L320 506L320 506L320 507L320 507L320 508L319 508L319 509L318 509L318 510L313 510L313 509L312 509L312 508L311 508L311 507L311 507L311 506L311 506L311 505L311 505L311 504L311 504L311 503L312 503L312 502L313 502L313 501ZM309 505h1v1h-1zM321 505h1v1h-1zM315 499h1v1h-1zM315 511h1v1h-1z" fill="#0072b2" fill-rule="evenodd" shape-rendering="crispEdges"/>
<path d="M323 502L323 503L324 503L324 504L325 504L325 505L325 505L325 506L325 506L325 507L325 507L325 508L325 508L325 509L325 509L325 510L325 510L325 511L324 511L324 512L323 512L323 513L316 513L316 512L315 512L315 511L314 511L314 510L314 510L314 509L314 509L314 508L314 508L314 507L314 507L314 506L314 506L314 505L314 505L314 504L315 504L315 503L316 503L316 502ZM322 503L322 504L323 504L323 505L324 505L324 506L324 506L324 507L324 507L324 508L324 508L324 509L324 509L324 510L323 510L323 511L322 511L322 512L317 512L317 511L316 511L316 510L315 510L315 509L315 509L315 508L315 508L315 507L315 507L315 506L315 506L315 505L316 505L316 504L317 504L317 503ZM313 507h1v1h-1zM325 507h1v1h-1zM319 501h1v1h-1zM319 513h1v1h-1z" fill="#0072b2" fill-rule="evenodd" shape-rendering="crispEdges"/>
<path d="M356 500L356 501L357 501L357 502L358 502L358 503L358 503L358 504L358 504L358 505L358 505L358 506L358 506L358 507L358 507L358 508L358 508L358 509L357 509L357 510L356 510L356 511L349 511L349 510L348 510L348 509L347 509L347 508L347 508L347 507L347 507L347 506L347 506L347 505L347 505L347 504L347 504L347 503L347 503L347 502L348 502L348 501L349 501L349 500ZM355 501L355 502L356 502L356 503L357 503L357 504L357 504L357 505L357 505L357 506L357 506L357 507L357 507L357 508L356 508L356 509L355 509L355 510L350 510L350 509L349 509L349 508L348 508L348 507L348 507L348 506L348 506L348 505L348 505L348 504L348 504L348 503L349 503L349 502L350 502L350 501ZM346 505h1v1h-1zM358 505h1v1h-1zM352 499h1v1h-1zM352 511h1v1h-1z" fill="#0072b2" fill-rule="evenodd" shape-rendering="crispEdges"/>
<path d="M360 502L360 503L361 503L361 504L362 504L362 505L362 505L362 506L362 506L362 507L362 507L362 508L362 508L362 509L362 509L362 510L362 510L362 511L361 511L361 512L360 512L360 513L353 513L353 512L352 512L352 511L351 511L351 510L351 510L351 509L351 509L351 508L351 508L351 507L351 507L351 506L351 506L351 505L351 505L351 504L352 504L352 503L353 503L353 502ZM359 503L359 504L360 504L360 505L361 505L361 506L361 506L361 507L361 507L361 508L361 508L361 509L361 509L361 510L360 510L360 511L359 511L359 512L354 512L354 511L353 511L353 510L352 510L352 509L352 509L352 508L352 508L352 507L352 507L352 506L352 506L352 505L353 505L353 504L354 504L354 503ZM350 507h1v1h-1zM362 507h1v1h-1zM356 501h1v1h-1zM356 513h1v1h-1z" fill="#0072b2" fill-rule="evenodd" shape-rendering="crispEdges"/>
<path d="M393 500L393 501L394 501L394 502L395 502L395 503L395 503L395 504L395 504L395 505L395 505L395 506L395 506L395 507L395 507L395 508L395 508L395 509L394 509L394 510L393 510L393 511L386 511L386 510L385 510L385 509L384 509L384 508L384 508L384 507L384 507L384 506L384 506L384 505L384 505L384 504L384 504L384 503L384 503L384 502L385 502L385 501L386 501L386 500ZM392 501L392 502L393 502L393 503L394 503L394 504L394 504L394 505L394 505L394 506L394 506L394 507L394 507L394 508L393 508L393 509L392 509L392 510L387 510L387 509L386 509L386 508L385 508L385 507L385 507L385 506L385 506L385 505L385 505L385 504L385 504L385 503L386 503L386 502L387 502L387 501ZM383 505h1v1h-1zM395 505h1v1h-1zM389 499h1v1h-1zM389 511h1v1h-1z" fill="#0072b2" fill-rule="evenodd" shape-rendering="crispEdges"/>
<path d="M398 502L398 503L399 503L399 504L400 504L400 505L400 505L400 506L400 506L400 507L400 507L400 508L400 508L400 509L400 509L400 510L400 510L400 511L399 511L399 512L398 512L398 513L391 513L391 512L390 512L390 511L389 511L389 510L389 510L389 509L389 509L389 508L389 508L389 507L389 507L389 506L389 506L389 505L389 505L389 504L390 504L390 503L391 503L391 502ZM397 503L397 504L398 504L398 505L399 505L399 506L399 506L399 507L399 507L399 508L399 508L399 509L399 509L399 510L398 510L398 511L397 511L397 512L392 512L392 511L391 511L391 510L390 510L390 509L390 509L390 508L390 508L390 507L390 507L390 506L390 506L390 505L391 505L391 504L392 504L392 503ZM388 507h1v1h-1zM400 507h1v1h-1zM394 501h1v1h-1zM394 513h1v1h-1z" fill="#0072b2" fill-rule="evenodd" shape-rendering="crispEdges"/>
<path d="M431 500L431 501L432 501L432 502L433 502L433 503L433 503L433 504L433 504L433 505L433 505L433 506L433 506L433 507L433 507L433 508L433 508L433 509L432 509L432 510L431 510L431 511L424 511L424 510L423 510L423 509L422 509L422 508L422 508L422 507L422 507L422 506L422 506L422 505L422 505L422 504L422 504L422 503L422 503L422 502L423 502L423 501L424 501L424 500ZM430 501L430 502L431 502L431 503L432 503L432 504L432 504L432 505L432 505L432 506L432 506L432 507L432 507L432 508L431 508L431 509L430 509L430 510L425 510L425 509L424 509L424 508L423 508L423 507L423 507L423 506L423 506L423 505L423 505L423 504L423 504L423 503L424 503L424 502L425 502L425 501ZM421 505h1v1h-1zM433 505h1v1h-1zM427 499h1v1h-1zM427 511h1v1h-1z" fill="#0072b2" fill-rule="evenodd" shape-rendering="crispEdges"/>
<path d="M435 501L435 502L436 502L436 503L437 503L437 504L437 504L437 505L437 505L437 506L437 506L437 507L437 507L437 508L437 508L437 509L437 509L437 510L436 510L436 511L435 511L435 512L428 512L428 511L427 511L427 510L426 510L426 509L426 509L426 508L426 508L426 507L426 507L426 506L426 506L426 505L426 505L426 504L426 504L426 503L427 503L427 502L428 502L428 501ZM434 502L434 503L435 503L435 504L436 504L436 505L436 505L436 506L436 506L436 507L436 507L436 508L436 508L436 509L435 509L435 510L434 510L434 511L429 511L429 510L428 510L428 509L427 509L427 508L427 508L427 507L427 507L427 506L427 506L427 505L427 505L427 504L428 504L428 503L429 503L429 502ZM425 506h1v1h-1zM437 506h1v1h-1zM431 500h1v1h-1zM431 512h1v1h-1z" fill="#0072b2" fill-rule="evenodd" shape-rendering="crispEdges"/>
<path d="M468 499L468 500L469 500L469 501L470 501L470 502L470 502L470 503L470 503L470 504L470 504L470 505L470 505L470 506L470 506L470 507L470 507L470 508L469 508L469 509L468 509L468 510L461 510L461 509L460 509L460 508L459 508L459 507L459 507L459 506L459 506L459 505L459 505L459 504L459 504L459 503L459 503L459 502L459 502L459 501L460 501L460 500L461 500L461 499ZM467 500L467 501L468 501L468 502L469 502L469 503L469 503L469 504L469 504L469 505L469 505L469 506L469 506L469 507L468 507L468 508L467 508L467 509L462 509L462 508L461 508L461 507L460 507L460 506L460 506L460 505L460 505L460 504L460 504L460 503L460 503L460 502L461 502L461 501L462 501L462 500ZM458 504h1v1h-1zM470 504h1v1h-1zM464 498h1v1h-1zM464 510h1v1h-1z" fill="#0072b2" fill-rule="evenodd" shape-rendering="crispEdges"/>
<path d="M472 502L472 503L473 503L473 504L474 504L474 505L474 505L474 506L474 506L474 507L474 507L474 508L474 508L474 509L474 509L474 510L474 510L474 511L473 511L473 512L472 512L472 513L465 513L465 512L464 512L464 511L463 511L463 510L463 510L463 509L463 509L463 508L463 508L463 507L463 507L463 506L463 506L463 505L463 505L463 504L464 504L464 503L465 503L465 502ZM471 503L471 504L472 504L472 505L473 505L473 506L473 506L473 507L473 507L473 508L473 508L473 509L473 509L473 510L472 510L472 511L471 511L471 512L466 512L466 511L465 511L465 510L464 510L464 509L464 509L464 508L464 508L464 507L464 507L464 506L464 506L464 505L465 505L465 504L466 504L466 503ZM462 507h1v1h-1zM474 507h1v1h-1zM468 501h1v1h-1zM468 513h1v1h-1z" fill="#0072b2" fill-rule="evenodd" shape-rendering="crispEdges"/>
<path d="M505 499L505 500L506 500L506 501L507 501L507 502L507 502L507 503L507 503L507 504L507 504L507 505L507 505L507 506L507 506L507 507L507 507L507 508L506 508L506 509L505 509L505 510L498 510L498 509L497 509L497 508L496 508L496 507L496 507L496 506L496 506L496 505L496 505L496 504L496 504L496 503L496 503L496 502L496 502L496 501L497 501L497 500L498 500L498 499ZM504 500L504 501L505 501L505 502L506 502L506 503L506 503L506 504L506 504L506 505L506 505L506 506L506 506L506 507L505 507L505 508L504 508L504 509L499 509L499 508L498 508L498 507L497 507L497 506L497 506L497 505L497 505L497 504L497 504L497 503L497 503L497 502L498 502L498 501L499 501L499 500ZM495 504h1v1h-1zM507 504h1v1h-1zM501 498h1v1h-1zM501 510h1v1h-1z" fill="#0072b2" fill-rule="evenodd" shape-rendering="crispEdges"/>
<path d="M509 501L509 502L510 502L510 503L511 503L511 504L511 504L511 505L511 505L511 506L511 506L511 507L511 507L511 508L511 508L511 509L511 509L511 510L510 510L510 511L509 511L509 512L502 512L502 511L501 511L501 510L500 510L500 509L500 509L500 508L500 508L500 507L500 507L500 506L500 506L500 505L500 505L500 504L500 504L500 503L501 503L501 502L502 502L502 501ZM508 502L508 503L509 503L509 504L510 504L510 505L510 505L510 506L510 506L510 507L510 507L510 508L510 508L510 509L509 509L509 510L508 510L508 511L503 511L503 510L502 510L502 509L501 509L501 508L501 508L501 507L501 507L501 506L501 506L501 505L501 505L501 504L502 504L502 503L503 503L503 502ZM499 506h1v1h-1zM511 506h1v1h-1zM505 500h1v1h-1zM505 512h1v1h-1z" fill="#0072b2" fill-rule="evenodd" shape-rendering="crispEdges"/>
<path d="M542 500L542 501L543 501L543 502L544 502L544 503L544 503L544 504L544 504L544 505L544 505L544 506L544 506L544 507L544 507L544 508L544 508L544 509L543 509L543 510L542 510L542 511L535 511L535 510L534 510L534 509L533 509L533 508L533 508L533 507L533 507L533 506L533 506L533 505L533 505L533 504L533 504L533 503L533 503L533 502L534 502L534 501L535 501L535 500ZM541 501L541 502L542 502L542 503L543 503L543 504L543 504L543 505L543 505L543 506L543 506L543 507L543 507L543 508L542 508L542 509L541 509L541 510L536 510L536 509L535 509L535 508L534 508L534 507L534 507L534 506L534 506L534 505L534 505L534 504L534 504L534 503L535 503L535 502L536 502L536 501ZM532 505h1v1h-1zM544 505h1v1h-1zM538 499h1v1h-1zM538 511h1v1h-1z" fill="#0072b2" fill-rule="evenodd" shape-rendering="crispEdges"/>
<path d="M547 501L547 502L548 502L548 503L549 503L549 504L549 504L549 505L549 505L549 506L549 506L549 507L549 507L549 508L549 508L549 509L549 509L549 510L548 510L548 511L547 511L547 512L540 512L540 511L539 511L539 510L538 510L538 509L538 509L538 508L538 508L538 507L538 507L538 506L538 506L538 505L538 505L538 504L538 504L538 503L539 503L539 502L540 502L540 501ZM546 502L546 503L547 503L547 504L548 504L548 505L548 505L548 506L548 506L548 507L548 507L548 508L548 508L548 509L547 509L547 510L546 510L546 511L541 511L541 510L540 510L540 509L539 509L539 508L539 508L539 507L539 507L539 506L539 506L539 505L539 505L539 504L540 504L540 503L541 503L541 502ZM537 506h1v1h-1zM549 506h1v1h-1zM543 500h1v1h-1zM543 512h1v1h-1z" fill="#0072b2" fill-rule="evenodd" shape-rendering="crispEdges"/>
<path d="M580 499L580 500L581 500L581 501L582 501L582 502L582 502L582 503L582 503L582 504L582 504L582 505L582 505L582 506L582 506L582 507L582 507L582 508L581 508L581 509L580 509L580 510L573 510L573 509L572 509L572 508L571 508L571 507L571 507L571 506L571 506L571 505L571 505L571 504L571 504L571 503L571 503L571 502L571 502L571 501L572 501L572 500L573 500L573 499ZM579 500L579 501L580 501L580 502L581 502L581 503L581 503L581 504L581 504L581 505L581 505L581 506L581 506L581 507L580 507L580 508L579 508L579 509L574 509L574 508L573 508L573 507L572 507L572 506L572 506L572 505L572 505L572 504L572 504L572 503L572 503L572 502L573 502L573 501L574 501L574 500ZM570 504h1v1h-1zM582 504h1v1h-1zM576 498h1v1h-1zM576 510h1v1h-1z" fill="#0072b2" fill-rule="evenodd" shape-rendering="crispEdges"/>
<path d="M584 501L584 502L585 502L585 503L586 503L586 504L586 504L586 505L586 505L586 506L586 506L586 507L586 507L586 508L586 508L586 509L586 509L586 510L585 510L585 511L584 511L584 512L577 512L577 511L576 511L576 510L575 510L575 509L575 509L575 508L575 508L575 507L575 507L575 506L575 506L575 505L575 505L575 504L575 504L575 503L576 503L576 502L577 502L577 501ZM583 502L583 503L584 503L584 504L585 504L585 505L585 505L585 506L585 506L585 507L585 507L585 508L585 508L585 509L584 509L584 510L583 510L583 511L578 511L578 510L577 510L577 509L576 509L576 508L576 508L576 507L576 507L576 506L576 506L576 505L576 505L576 504L577 504L577 503L578 503L578 502ZM574 506h1v1h-1zM586 506h1v1h-1zM580 500h1v1h-1zM580 512h1v1h-1z" fill="#0072b2" fill-rule="evenodd" shape-rendering="crispEdges"/>
<path d="M617 498L617 499L618 499L618 500L619 500L619 501L619 501L619 502L619 502L619 503L619 503L619 504L619 504L619 505L619 505L619 506L619 506L619 507L618 507L618 508L617 508L617 509L610 509L610 508L609 508L609 507L608 507L608 506L608 506L608 505L608 505L608 504L608 504L608 503L608 503L608 502L608 502L608 501L608 501L608 500L609 500L609 499L610 499L610 498ZM616 499L616 500L617 500L617 501L618 501L618 502L618 502L618 503L618 503L618 504L618 504L618 505L618 505L618 506L617 506L617 507L616 507L616 508L611 508L611 507L610 507L610 506L609 506L609 505L609 505L609 504L609 504L609 503L609 503L609 502L609 502L609 501L610 501L610 500L611 500L611 499ZM607 503h1v1h-1zM619 503h1v1h-1zM613 497h1v1h-1zM613 509h1v1h-1z" fill="#0072b2" fill-rule="evenodd" shape-rendering="crispEdges"/>
<path d="M621 500L621 501L622 501L622 502L623 502L623 503L623 503L623 504L623 504L623 505L623 505L623 506L623 506L623 507L623 507L623 508L623 508L623 509L622 509L622 510L621 510L621 511L614 511L614 510L613 510L613 509L612 509L612 508L612 508L612 507L612 507L612 506L612 506L612 505L612 505L612 504L612 504L612 503L612 503L612 502L613 502L613 501L614 501L614 500ZM620 501L620 502L621 502L621 503L622 503L622 504L622 504L622 505L622 505L622 506L622 506L622 507L622 507L622 508L621 508L621 509L620 509L620 510L615 510L615 509L614 509L614 508L613 508L613 507L613 507L613 506L613 506L613 505L613 505L613 504L613 504L613 503L614 503L614 502L615 502L615 501ZM611 505h1v1h-1zM623 505h1v1h-1zM617 499h1v1h-1zM617 511h1v1h-1z" fill="#0072b2" fill-rule="evenodd" shape-rendering="crispEdges"/>
<path d="M654 499L654 500L655 500L655 501L656 501L656 502L656 502L656 503L656 503L656 504L656 504L656 505L656 505L656 506L656 506L656 507L656 507L656 508L655 508L655 509L654 509L654 510L647 510L647 509L646 509L646 508L645 508L645 507L645 507L645 506L645 506L645 505L645 505L645 504L645 504L645 503L645 503L645 502L645 502L645 501L646 501L646 500L647 500L647 499ZM653 500L653 501L654 501L654 502L655 502L655 503L655 503L655 504L655 504L655 505L655 505L655 506L655 506L655 507L654 507L654 508L653 508L653 509L648 509L648 508L647 508L647 507L646 507L646 506L646 506L646 505L646 505L646 504L646 504L646 503L646 503L646 502L647 502L647 501L648 501L648 500ZM644 504h1v1h-1zM656 504h1v1h-1zM650 498h1v1h-1zM650 510h1v1h-1z" fill="#0072b2" fill-rule="evenodd" shape-rendering="crispEdges"/>
<path d="M659 501L659 502L660 502L660 503L661 503L661 504L661 504L661 505L661 505L661 506L661 506L661 507L661 507L661 508L661 508L661 509L661 509L661 510L660 510L660 511L659 511L659 512L652 512L652 511L651 511L651 510L650 510L650 509L650 509L650 508L650 508L650 507L650 507L650 506L650 506L650 505L650 505L650 504L650 504L650 503L651 503L651 502L652 502L652 501ZM658 502L658 503L659 503L659 504L660 504L660 505L660 505L660 506L660 506L660 507L660 507L660 508L660 508L660 509L659 509L659 510L658 510L658 511L653 511L653 510L652 510L652 509L651 509L651 508L651 508L651 507L651 507L651 506L651 506L651 505L651 505L651 504L652 504L652 503L653 503L653 502ZM649 506h1v1h-1zM661 506h1v1h-1zM655 500h1v1h-1zM655 512h1v1h-1z" fill="#0072b2" fill-rule="evenodd" shape-rendering="crispEdges"/>
<path d="M692 500L692 501L693 501L693 502L694 502L694 503L694 503L694 504L694 504L694 505L694 505L694 506L694 506L694 507L694 507L694 508L694 508L694 509L693 509L693 510L692 510L692 511L685 511L685 510L684 510L684 509L683 509L683 508L683 508L683 507L683 507L683 506L683 506L683 505L683 505L683 504L683 504L683 503L683 503L683 502L684 502L684 501L685 501L685 500ZM691 501L691 502L692 502L692 503L693 503L693 504L693 504L693 505L693 505L693 506L693 506L693 507L693 507L693 508L692 508L692 509L691 509L691 510L686 510L686 509L685 509L685 508L684 508L684 507L684 507L684 506L684 506L684 505L684 505L684 504L684 504L684 503L685 503L685 502L686 502L686 501ZM682 505h1v1h-1zM694 505h1v1h-1zM688 499h1v1h-1zM688 511h1v1h-1z" fill="#0072b2" fill-rule="evenodd" shape-rendering="crispEdges"/>
<path d="M696 501L696 502L697 502L697 503L698 503L698 504L698 504L698 505L698 505L698 506L698 506L698 507L698 507L698 508L698 508L698 509L698 509L698 510L697 510L697 511L696 511L696 512L689 512L689 511L688 511L688 510L687 510L687 509L687 509L687 508L687 508L687 507L687 507L687 506L687 506L687 505L687 505L687 504L687 504L687 503L688 503L688 502L689 502L689 501ZM695 502L695 503L696 503L696 504L697 504L697 505L697 505L697 506L697 506L697 507L697 507L697 508L697 508L697 509L696 509L696 510L695 510L695 511L690 511L690 510L689 510L689 509L688 509L688 508L688 508L688 507L688 507L688 506L688 506L688 505L688 505L688 504L689 504L689 503L690 503L690 502ZM686 506h1v1h-1zM698 506h1v1h-1zM692 500h1v1h-1zM692 512h1v1h-1z" fill="#0072b2" fill-rule="evenodd" shape-rendering="crispEdges"/>
<path d="M729 498L729 499L730 499L730 500L731 500L731 501L731 501L731 502L731 502L731 503L731 503L731 504L731 504L731 505L731 505L731 506L731 506L731 507L730 507L730 508L729 508L729 509L722 509L722 508L721 508L721 507L720 507L720 506L720 506L720 505L720 505L720 504L720 504L720 503L720 503L720 502L720 502L720 501L720 501L720 500L721 500L721 499L722 499L722 498ZM728 499L728 500L729 500L729 501L730 501L730 502L730 502L730 503L730 503L730 504L730 504L730 505L730 505L730 506L729 506L729 507L728 507L728 508L723 508L723 507L722 507L722 506L721 506L721 505L721 505L721 504L721 504L721 503L721 503L721 502L721 502L721 501L722 501L722 500L723 500L723 499ZM719 503h1v1h-1zM731 503h1v1h-1zM725 497h1v1h-1zM725 509h1v1h-1z" fill="#0072b2" fill-rule="evenodd" shape-rendering="crispEdges"/>
<path d="M734 500L734 501L735 501L735 502L736 502L736 503L736 503L736 504L736 504L736 505L736 505L736 506L736 506L736 507L736 507L736 508L736 508L736 509L735 509L735 510L734 510L734 511L727 511L727 510L726 510L726 509L725 509L725 508L725 508L725 507L725 507L725 506L725 506L725 505L725 505L725 504L725 504L725 503L725 503L725 502L726 502L726 501L727 501L727 500ZM733 501L733 502L734 502L734 503L735 503L735 504L735 504L735 505L735 505L735 506L735 506L735 507L735 507L735 508L734 508L734 509L733 509L733 510L728 510L728 509L727 509L727 508L726 508L726 507L726 507L726 506L726 506L726 505L726 505L726 504L726 504L726 503L727 503L727 502L728 502L728 501ZM724 505h1v1h-1zM736 505h1v1h-1zM730 499h1v1h-1zM730 511h1v1h-1z" fill="#0072b2" fill-rule="evenodd" shape-rendering="crispEdges"/>
<path d="M766 499L766 500L767 500L767 501L768 501L768 502L768 502L768 503L768 503L768 504L768 504L768 505L768 505L768 506L768 506L768 507L768 507L768 508L767 508L767 509L766 509L766 510L759 510L759 509L758 509L758 508L757 508L757 507L757 507L757 506L757 506L757 505L757 505L757 504L757 504L757 503L757 503L757 502L757 502L757 501L758 501L758 500L759 500L759 499ZM765 500L765 501L766 501L766 502L767 502L767 503L767 503L767 504L767 504L767 505L767 505L767 506L767 506L767 507L766 507L766 508L765 508L765 509L760 509L760 508L759 508L759 507L758 507L758 506L758 506L758 505L758 505L758 504L758 504L758 503L758 503L758 502L759 502L759 501L760 501L760 500ZM756 504h1v1h-1zM768 504h1v1h-1zM762 498h1v1h-1zM762 510h1v1h-1z" fill="#0072b2" fill-rule="evenodd" shape-rendering="crispEdges"/>
<path d="M770 502L770 503L771 503L771 504L772 504L772 505L772 505L772 506L772 506L772 507L772 507L772 508L772 508L772 509L772 509L772 510L772 510L772 511L771 511L771 512L770 512L770 513L763 513L763 512L762 512L762 511L761 511L761 510L761 510L761 509L761 509L761 508L761 508L761 507L761 507L761 506L761 506L761 505L761 505L761 504L762 504L762 503L763 503L763 502ZM769 503L769 504L770 504L770 505L771 505L771 506L771 506L771 507L771 507L771 508L771 508L771 509L771 509L771 510L770 510L770 511L769 511L769 512L764 512L764 511L763 511L763 510L762 510L762 509L762 509L762 508L762 508L762 507L762 507L762 506L762 506L762 505L763 505L763 504L764 504L764 503ZM760 507h1v1h-1zM772 507h1v1h-1zM766 501h1v1h-1zM766 513h1v1h-1z" fill="#0072b2" fill-rule="evenodd" shape-rendering="crispEdges"/>
<path d="M803 499L803 500L804 500L804 501L805 501L805 502L805 502L805 503L805 503L805 504L805 504L805 505L805 505L805 506L805 506L805 507L805 507L805 508L804 508L804 509L803 509L803 510L796 510L796 509L795 509L795 508L794 508L794 507L794 507L794 506L794 506L794 505L794 505L794 504L794 504L794 503L794 503L794 502L794 502L794 501L795 501L795 500L796 500L796 499ZM802 500L802 501L803 501L803 502L804 502L804 503L804 503L804 504L804 504L804 505L804 505L804 506L804 506L804 507L803 507L803 508L802 508L802 509L797 509L797 508L796 508L796 507L795 507L795 506L795 506L795 505L795 505L795 504L795 504L795 503L795 503L795 502L796 502L796 501L797 501L797 500ZM793 504h1v1h-1zM805 504h1v1h-1zM799 498h1v1h-1zM799 510h1v1h-1z" fill="#0072b2" fill-rule="evenodd" shape-rendering="crispEdges"/>
<path d="M808 501L808 502L809 502L809 503L810 503L810 504L810 504L810 505L810 505L810 506L810 506L810 507L810 507L810 508L810 508L810 509L810 509L810 510L809 510L809 511L808 511L808 512L801 512L801 511L800 511L800 510L799 510L799 509L799 509L799 508L799 508L799 507L799 507L799 506L799 506L799 505L799 505L799 504L799 504L799 503L800 503L800 502L801 502L801 501ZM807 502L807 503L808 503L808 504L809 504L809 505L809 505L809 506L809 506L809 507L809 507L809 508L809 508L809 509L808 509L808 510L807 510L807 511L802 511L802 510L801 510L801 509L800 509L800 508L800 508L800 507L800 507L800 506L800 506L800 505L800 505L800 504L801 504L801 503L802 503L802 502ZM798 506h1v1h-1zM810 506h1v1h-1zM804 500h1v1h-1zM804 512h1v1h-1z" fill="#0072b2" fill-rule="evenodd" shape-rendering="crispEdges"/>
<path d="M841 498L841 499L842 499L842 500L843 500L843 501L843 501L843 502L843 502L843 503L843 503L843 504L843 504L843 505L843 505L843 506L843 506L843 507L842 507L842 508L841 508L841 509L834 509L834 508L833 508L833 507L832 507L832 506L832 506L832 505L832 505L832 504L832 504L832 503L832 503L832 502L832 502L832 501L832 501L832 500L833 500L833 499L834 499L834 498ZM840 499L840 500L841 500L841 501L842 501L842 502L842 502L842 503L842 503L842 504L842 504L842 505L842 505L842 506L841 506L841 507L840 507L840 508L835 508L835 507L834 507L834 506L833 506L833 505L833 505L833 504L833 504L833 503L833 503L833 502L833 502L833 501L834 501L834 500L835 500L835 499ZM831 503h1v1h-1zM843 503h1v1h-1zM837 497h1v1h-1zM837 509h1v1h-1z" fill="#0072b2" fill-rule="evenodd" shape-rendering="crispEdges"/>
<path d="M845 501L845 502L846 502L846 503L847 503L847 504L847 504L847 505L847 505L847 506L847 506L847 507L847 507L847 508L847 508L847 509L847 509L847 510L846 510L846 511L845 511L845 512L838 512L838 511L837 511L837 510L836 510L836 509L836 509L836 508L836 508L836 507L836 507L836 506L836 506L836 505L836 505L836 504L836 504L836 503L837 503L837 502L838 502L838 501ZM844 502L844 503L845 503L845 504L846 504L846 505L846 505L846 506L846 506L846 507L846 507L846 508L846 508L846 509L845 509L845 510L844 510L844 511L839 511L839 510L838 510L838 509L837 509L837 508L837 508L837 507L837 507L837 506L837 506L837 505L837 505L837 504L838 504L838 503L839 503L839 502ZM835 506h1v1h-1zM847 506h1v1h-1zM841 500h1v1h-1zM841 512h1v1h-1z" fill="#0072b2" fill-rule="evenodd" shape-rendering="crispEdges"/>
<path d="M878 498L878 499L879 499L879 500L880 500L880 501L880 501L880 502L880 502L880 503L880 503L880 504L880 504L880 505L880 505L880 506L880 506L880 507L879 507L879 508L878 508L878 509L871 509L871 508L870 508L870 507L869 507L869 506L869 506L869 505L869 505L869 504L869 504L869 503L869 503L869 502L869 502L869 501L869 501L869 500L870 500L870 499L871 499L871 498ZM877 499L877 500L878 500L878 501L879 501L879 502L879 502L879 503L879 503L879 504L879 504L879 505L879 505L879 506L878 506L878 507L877 507L877 508L872 508L872 507L871 507L871 506L870 506L870 505L870 505L870 504L870 504L870 503L870 503L870 502L870 502L870 501L871 501L871 500L872 500L872 499ZM868 503h1v1h-1zM880 503h1v1h-1zM874 497h1v1h-1zM874 509h1v1h-1z" fill="#0072b2" fill-rule="evenodd" shape-rendering="crispEdges"/>
<path d="M882 500L882 501L883 501L883 502L884 502L884 503L884 503L884 504L884 504L884 505L884 505L884 506L884 506L884 507L884 507L884 508L884 508L884 509L883 509L883 510L882 510L882 511L875 511L875 510L874 510L874 509L873 509L873 508L873 508L873 507L873 507L873 506L873 506L873 505L873 505L873 504L873 504L873 503L873 503L873 502L874 502L874 501L875 501L875 500ZM881 501L881 502L882 502L882 503L883 503L883 504L883 504L883 505L883 505L883 506L883 506L883 507L883 507L883 508L882 508L882 509L881 509L881 510L876 510L876 509L875 509L875 508L874 508L874 507L874 507L874 506L874 506L874 505L874 505L874 504L874 504L874 503L875 503L875 502L876 502L876 501ZM872 505h1v1h-1zM884 505h1v1h-1zM878 499h1v1h-1zM878 511h1v1h-1z" fill="#0072b2" fill-rule="evenodd" shape-rendering="crispEdges"/>
<path d="M915 500L915 501L916 501L916 502L917 502L917 503L917 503L917 504L917 504L917 505L917 505L917 506L917 506L917 507L917 507L917 508L917 508L917 509L916 509L916 510L915 510L915 511L908 511L908 510L907 510L907 509L906 509L906 508L906 508L906 507L906 507L906 506L906 506L906 505L906 505L906 504L906 504L906 503L906 503L906 502L907 502L907 501L908 501L908 500ZM914 501L914 502L915 502L915 503L916 503L916 504L916 504L916 505L916 505L916 506L916 506L916 507L916 507L916 508L915 508L915 509L914 509L914 510L909 510L909 509L908 509L908 508L907 508L907 507L907 507L907 506L907 506L907 505L907 505L907 504L907 504L907 503L908 503L908 502L909 502L909 501ZM905 505h1v1h-1zM917 505h1v1h-1zM911 499h1v1h-1zM911 511h1v1h-1z" fill="#0072b2" fill-rule="evenodd" shape-rendering="crispEdges"/>
<path d="M920 500L920 501L921 501L921 502L922 502L922 503L922 503L922 504L922 504L922 505L922 505L922 506L922 506L922 507L922 507L922 508L922 508L922 509L921 509L921 510L920 510L920 511L913 511L913 510L912 510L912 509L911 509L911 508L911 508L911 507L911 507L911 506L911 506L911 505L911 505L911 504L911 504L911 503L911 503L911 502L912 502L912 501L913 501L913 500ZM919 501L919 502L920 502L920 503L921 503L921 504L921 504L921 505L921 505L921 506L921 506L921 507L921 507L921 508L920 508L920 509L919 509L919 510L914 510L914 509L913 509L913 508L912 508L912 507L912 507L912 506L912 506L912 505L912 505L912 504L912 504L912 503L913 503L913 502L914 502L914 501ZM910 505h1v1h-1zM922 505h1v1h-1zM916 499h1v1h-1zM916 511h1v1h-1z" fill="#0072b2" fill-rule="evenodd" shape-rendering="crispEdges"/>
<path d="M953 500L953 501L954 501L954 502L955 502L955 503L955 503L955 504L955 504L955 505L955 505L955 506L955 506L955 507L955 507L955 508L955 508L955 509L954 509L954 510L953 510L953 511L946 511L946 510L945 510L945 509L944 509L944 508L944 508L944 507L944 507L944 506L944 506L944 505L944 505L944 504L944 504L944 503L944 503L944 502L945 502L945 501L946 501L946 500ZM952 501L952 502L953 502L953 503L954 503L954 504L954 504L954 505L954 505L954 506L954 506L954 507L954 507L954 508L953 508L953 509L952 509L952 510L947 510L947 509L946 509L946 508L945 508L945 507L945 507L945 506L945 506L945 505L945 505L945 504L945 504L945 503L946 503L946 502L947 502L947 501ZM943 505h1v1h-1zM955 505h1v1h-1zM949 499h1v1h-1zM949 511h1v1h-1z" fill="#0072b2" fill-rule="evenodd" shape-rendering="crispEdges"/>
<path d="M957 501L957 502L958 502L958 503L959 503L959 504L959 504L959 505L959 505L959 506L959 506L959 507L959 507L959 508L959 508L959 509L959 509L959 510L958 510L958 511L957 511L957 512L950 512L950 511L949 511L949 510L948 510L948 509L948 509L948 508L948 508L948 507L948 507L948 506L948 506L948 505L948 505L948 504L948 504L948 503L949 503L949 502L950 502L950 501ZM956 502L956 503L957 503L957 504L958 504L958 505L958 505L958 506L958 506L958 507L958 507L958 508L958 508L958 509L957 509L957 510L956 510L956 511L951 511L951 510L950 510L950 509L949 509L949 508L949 508L949 507L949 507L949 506L949 506L949 505L949 505L949 504L950 504L950 503L951 503L951 502ZM947 506h1v1h-1zM959 506h1v1h-1zM953 500h1v1h-1zM953 512h1v1h-1z" fill="#0072b2" fill-rule="evenodd" shape-rendering="crispEdges"/>
<path d="M990 499L990 500L991 500L991 501L992 501L992 502L992 502L992 503L992 503L992 504L992 504L992 505L992 505L992 506L992 506L992 507L992 507L992 508L991 508L991 509L990 509L990 510L983 510L983 509L982 509L982 508L981 508L981 507L981 507L981 506L981 506L981 505L981 505L981 504L981 504L981 503L981 503L981 502L981 502L981 501L982 501L982 500L983 500L983 499ZM989 500L989 501L990 501L990 502L991 502L991 503L991 503L991 504L991 504L991 505L991 505L991 506L991 506L991 507L990 507L990 508L989 508L989 509L984 509L984 508L983 508L983 507L982 507L982 506L982 506L982 505L982 505L982 504L982 504L982 503L982 503L982 502L983 502L983 501L984 501L984 500ZM980 504h1v1h-1zM992 504h1v1h-1zM986 498h1v1h-1zM986 510h1v1h-1z" fill="#0072b2" fill-rule="evenodd" shape-rendering="crispEdges"/>
<path d="M99 517L99 518L100 518L100 519L101 519L101 520L101 520L101 521L101 521L101 522L101 522L101 523L101 523L101 524L101 524L101 525L101 525L101 526L100 526L100 527L99 527L99 528L92 528L92 527L91 527L91 526L90 526L90 525L90 525L90 524L90 524L90 523L90 523L90 522L90 522L90 521L90 521L90 520L90 520L90 519L91 519L91 518L92 518L92 517ZM89 522h1v1h-1zM101 522h1v1h-1zM95 516h1v1h-1zM95 528h1v1h-1z" fill="#e51e10" shape-rendering="crispEdges"/>
<path d="M132 517L132 518L133 518L133 519L134 519L134 520L134 520L134 521L134 521L134 522L134 522L134 523L134 523L134 524L134 524L134 525L134 525L134 526L133 526L133 527L132 527L132 528L125 528L125 527L124 527L124 526L123 526L123 525L123 525L123 524L123 524L123 523L123 523L123 522L123 522L123 521L123 521L123 520L123 520L123 519L124 519L124 518L125 518L125 517ZM122 522h1v1h-1zM134 522h1v1h-1zM128 516h1v1h-1zM128 528h1v1h-1z" fill="#e51e10" shape-rendering="crispEdges"/>
<path d="M174 517L174 518L175 518L175 519L176 519L176 520L176 520L176 521L176 521L176 522L176 522L176 523L176 523L176 524L176 524L176 525L176 525L176 526L175 526L175 527L174 527L174 528L167 528L167 527L166 527L166 526L165 526L165 525L165 525L165 524L165 524L165 523L165 523L165 522L165 522L165 521L165 521L165 520L165 520L165 519L166 519L166 518L167 518L167 517ZM164 522h1v1h-1zM176 522h1v1h-1zM170 516h1v1h-1zM170 528h1v1h-1z" fill="#e51e10" shape-rendering="crispEdges"/>
<path d="M207 517L207 518L208 518L208 519L209 519L209 520L209 520L209 521L209 521L209 522L209 522L209 523L209 523L209 524L209 524L209 525L209 525L209 526L208 526L208 527L207 527L207 528L200 528L200 527L199 527L199 526L198 526L198 525L198 525L198 524L198 524L198 523L198 523L198 522L198 522L198 521L198 521L198 520L198 520L198 519L199 519L199 518L200 518L200 517ZM197 522h1v1h-1zM209 522h1v1h-1zM203 516h1v1h-1zM203 528h1v1h-1z" fill="#e51e10" shape-rendering="crispEdges"/>
<path d="M211 517L211 518L212 518L212 519L213 519L213 520L213 520L213 521L213 521L213 522L213 522L213 523L213 523L213 524L213 524L213 525L213 525L213 526L212 526L212 527L211 527L211 528L204 528L204 527L203 527L203 526L202 526L202 525L202 525L202 524L202 524L202 523L202 523L202 522L202 522L202 521L202 521L202 520L202 520L202 519L203 519L203 518L204 518L204 517ZM201 522h1v1h-1zM213 522h1v1h-1zM207 516h1v1h-1zM207 528h1v1h-1z" fill="#e51e10" shape-rendering="crispEdges"/>
<path d="M244 517L244 518L245 518L245 519L246 519L246 520L246 520L246 521L246 521L246 522L246 522L246 523L246 523L246 524L246 524L246 525L246 525L246 526L245 526L245 527L244 527L244 528L237 528L237 527L236 527L236 526L235 526L235 525L235 525L235 524L235 524L235 523L235 523L235 522L235 522L235 521L235 521L235 520L235 520L235 519L236 519L236 518L237 518L237 517ZM234 522h1v1h-1zM246 522h1v1h-1zM240 516h1v1h-1zM240 528h1v1h-1z" fill="#e51e10" shape-rendering="crispEdges"/>
<path d="M248 517L248 518L249 518L249 519L250 519L250 520L250 520L250 521L250 521L250 522L250 522L250 523L250 523L250 524L250 524L250 525L250 525L250 526L249 526L249 527L248 527L248 528L241 528L241 527L240 527L240 526L239 526L239 525L239 525L239 524L239 524L239 523L239 523L239 522L239 522L239 521L239 521L239 520L239 520L239 519L240 519L240 518L241 518L241 517ZM238 522h1v1h-1zM250 522h1v1h-1zM244 516h1v1h-1zM244 528h1v1h-1z" fill="#e51e10" shape-rendering="crispEdges"/>
<path d="M281 514L281 515L282 515L282 516L283 516L283 517L283 517L283 518L283 518L283 519L283 519L283 520L283 520L283 521L283 521L283 522L283 522L283 523L282 523L282 524L281 524L281 525L274 525L274 524L273 524L273 523L272 523L272 522L272 522L272 521L272 521L272 520L272 520L272 519L272 519L272 518L272 518L272 517L272 517L272 516L273 516L273 515L274 515L274 514ZM271 519h1v1h-1zM283 519h1v1h-1zM277 513h1v1h-1zM277 525h1v1h-1z" fill="#e51e10" shape-rendering="crispEdges"/>
<path d="M286 517L286 518L287 518L287 519L288 519L288 520L288 520L288 521L288 521L288 522L288 522L288 523L288 523L288 524L288 524L288 525L288 525L288 526L287 526L287 527L286 527L286 528L279 528L279 527L278 527L278 526L277 526L277 525L277 525L277 524L277 524L277 523L277 523L277 522L277 522L277 521L277 521L277 520L277 520L277 519L278 519L278 518L279 518L279 517ZM276 522h1v1h-1zM288 522h1v1h-1zM282 516h1v1h-1zM282 528h1v1h-1z" fill="#e51e10" shape-rendering="crispEdges"/>
<path d="M319 516L319 517L320 517L320 518L321 518L321 519L321 519L321 520L321 520L321 521L321 521L321 522L321 522L321 523L321 523L321 524L321 524L321 525L320 525L320 526L319 526L319 527L312 527L312 526L311 526L311 525L310 525L310 524L310 524L310 523L310 523L310 522L310 522L310 521L310 521L310 520L310 520L310 519L310 519L310 518L311 518L311 517L312 517L312 516ZM309 521h1v1h-1zM321 521h1v1h-1zM315 515h1v1h-1zM315 527h1v1h-1z" fill="#e51e10" shape-rendering="crispEdges"/>
<path d="M323 517L323 518L324 518L324 519L325 519L325 520L325 520L325 521L325 521L325 522L325 522L325 523L325 523L325 524L325 524L325 525L325 525L325 526L324 526L324 527L323 527L323 528L316 528L316 527L315 527L315 526L314 526L314 525L314 525L314 524L314 524L314 523L314 523L314 522L314 522L314 521L314 521L314 520L314 520L314 519L315 519L315 518L316 518L316 517ZM313 522h1v1h-1zM325 522h1v1h-1zM319 516h1v1h-1zM319 528h1v1h-1z" fill="#e51e10" shape-rendering="crispEdges"/>
<path d="M356 517L356 518L357 518L357 519L358 519L358 520L358 520L358 521L358 521L358 522L358 522L358 523L358 523L358 524L358 524L358 525L358 525L358 526L357 526L357 527L356 527L356 528L349 528L349 527L348 527L348 526L347 526L347 525L347 525L347 524L347 524L347 523L347 523L347 522L347 522L347 521L347 521L347 520L347 520L347 519L348 519L348 518L349 518L349 517ZM346 522h1v1h-1zM358 522h1v1h-1zM352 516h1v1h-1zM352 528h1v1h-1z" fill="#e51e10" shape-rendering="crispEdges"/>
<path d="M360 517L360 518L361 518L361 519L362 519L362 520L362 520L362 521L362 521L362 522L362 522L362 523L362 523L362 524L362 524L362 525L362 525L362 526L361 526L361 527L360 527L360 528L353 528L353 527L352 527L352 526L351 526L351 525L351 525L351 524L351 524L351 523L351 523L351 522L351 522L351 521L351 521L351 520L351 520L351 519L352 519L352 518L353 518L353 517ZM350 522h1v1h-1zM362 522h1v1h-1zM356 516h1v1h-1zM356 528h1v1h-1z" fill="#e51e10" shape-rendering="crispEdges"/>
<path d="M393 517L393 518L394 518L394 519L395 519L395 520L395 520L395 521L395 521L395 522L395 522L395 523L395 523L395 524L395 524L395 525L395 525L395 526L394 526L394 527L393 527L393 528L386 528L386 527L385 527L385 526L384 526L384 525L384 525L384 524L384 524L384 523L384 523L384 522L384 522L384 521L384 521L384 520L384 520L384 519L385 519L385 518L386 518L386 517ZM383 522h1v1h-1zM395 522h1v1h-1zM389 516h1v1h-1zM389 528h1v1h-1z" fill="#e51e10" shape-rendering="crispEdges"/>
<path d="M398 517L398 518L399 518L399 519L400 519L400 520L400 520L400 521L400 521L400 522L400 522L400 523L400 523L400 524L400 524L400 525L400 525L400 526L399 526L399 527L398 527L398 528L391 528L391 527L390 527L390 526L389 526L389 525L389 525L389 524L389 524L389 523L389 523L389 522L389 522L389 521L389 521L389 520L389 520L389 519L390 519L390 518L391 518L391 517ZM388 522h1v1h-1zM400 522h1v1h-1zM394 516h1v1h-1zM394 528h1v1h-1z" fill="#e51e10" shape-rendering="crispEdges"/>
<path d="M431 517L431 518L432 518L432 519L433 519L433 520L433 520L433 521L433 521L433 522L433 522L433 523L433 523L433 524L433 524L433 525L433 525L433 526L432 526L432 527L431 527L431 528L424 528L424 527L423 527L423 526L422 526L422 525L422 525L422 524L422 524L422 523L422 523L422 522L422 522L422 521L422 521L422 520L422 520L422 519L423 519L423 518L424 518L424 517ZM421 522h1v1h-1zM433 522h1v1h-1zM427 516h1v1h-1zM427 528h1v1h-1z" fill="#e51e10" shape-rendering="crispEdges"/>
<path d="M435 517L435 518L436 518L436 519L437 519L437 520L437 520L437 521L437 521L437 522L437 522L437 523L437 523L437 524L437 524L437 525L437 525L437 526L436 526L436 527L435 527L435 528L428 528L428 527L427 527L427 526L426 526L426 525L426 525L426 524L426 524L426 523L426 523L426 522L426 522L426 521L426 521L426 520L426 520L426 519L427 519L427 518L428 518L428 517ZM425 522h1v1h-1zM437 522h1v1h-1zM431 516h1v1h-1zM431 528h1v1h-1z" fill="#e51e10" shape-rendering="crispEdges"/>
<path d="M468 517L468 518L469 518L469 519L470 519L470 520L470 520L470 521L470 521L470 522L470 522L470 523L470 523L470 524L470 524L470 525L470 525L470 526L469 526L469 527L468 527L468 528L461 528L461 527L460 527L460 526L459 526L459 525L459 525L459 524L459 524L459 523L459 523L459 522L459 522L459 521L459 521L459 520L459 520L459 519L460 519L460 518L461 518L461 517ZM458 522h1v1h-1zM470 522h1v1h-1zM464 516h1v1h-1zM464 528h1v1h-1z" fill="#e51e10" shape-rendering="crispEdges"/>
<path d="M472 517L472 518L473 518L473 519L474 519L474 520L474 520L474 521L474 521L474 522L474 522L474 523L474 523L474 524L474 524L474 525L474 525L474 526L473 526L473 527L472 527L472 528L465 528L465 527L464 527L464 526L463 526L463 525L463 525L463 524L463 524L463 523L463 523L463 522L463 522L463 521L463 521L463 520L463 520L463 519L464 519L464 518L465 518L465 517ZM462 522h1v1h-1zM474 522h1v1h-1zM468 516h1v1h-1zM468 528h1v1h-1z" fill="#e51e10" shape-rendering="crispEdges"/>
<path d="M505 517L505 518L506 518L506 519L507 519L507 520L507 520L507 521L507 521L507 522L507 522L507 523L507 523L507 524L507 524L507 525L507 525L507 526L506 526L506 527L505 527L505 528L498 528L498 527L497 527L497 526L496 526L496 525L496 525L496 524L496 524L496 523L496 523L496 522L496 522L496 521L496 521L496 520L496 520L496 519L497 519L497 518L498 518L498 517ZM495 522h1v1h-1zM507 522h1v1h-1zM501 516h1v1h-1zM501 528h1v1h-1z" fill="#e51e10" shape-rendering="crispEdges"/>
<path d="M509 517L509 518L510 518L510 519L511 519L511 520L511 520L511 521L511 521L511 522L511 522L511 523L511 523L511 524L511 524L511 525L511 525L511 526L510 526L510 527L509 527L509 528L502 528L502 527L501 527L501 526L500 526L500 525L500 525L500 524L500 524L500 523L500 523L500 522L500 522L500 521L500 521L500 520L500 520L500 519L501 519L501 518L502 518L502 517ZM499 522h1v1h-1zM511 522h1v1h-1zM505 516h1v1h-1zM505 528h1v1h-1z" fill="#e51e10" shape-rendering="crispEdges"/>
<path d="M542 517L542 518L543 518L543 519L544 519L544 520L544 520L544 521L544 521L544 522L544 522L544 523L544 523L544 524L544 524L544 525L544 525L544 526L543 526L543 527L542 527L542 528L535 528L535 527L534 527L534 526L533 526L533 525L533 525L533 524L533 524L533 523L533 523L533 522L533 522L533 521L533 521L533 520L533 520L533 519L534 519L534 518L535 518L535 517ZM532 522h1v1h-1zM544 522h1v1h-1zM538 516h1v1h-1zM538 528h1v1h-1z" fill="#e51e10" shape-rendering="crispEdges"/>
<path d="M547 517L547 518L548 518L548 519L549 519L549 520L549 520L549 521L549 521L549 522L549 522L549 523L549 523L549 524L549 524L549 525L549 525L549 526L548 526L548 527L547 527L547 528L540 528L540 527L539 527L539 526L538 526L538 525L538 525L538 524L538 524L538 523L538 523L538 522L538 522L538 521L538 521L538 520L538 520L538 519L539 519L539 518L540 518L540 517ZM537 522h1v1h-1zM549 522h1v1h-1zM543 516h1v1h-1zM543 528h1v1h-1z" fill="#e51e10" shape-rendering="crispEdges"/>
<path d="M580 517L580 518L581 518L581 519L582 519L582 520L582 520L582 521L582 521L582 522L582 522L582 523L582 523L582 524L582 524L582 525L582 525L582 526L581 526L581 527L580 527L580 528L573 528L573 527L572 527L572 526L571 526L571 525L571 525L571 524L571 524L571 523L571 523L571 522L571 522L571 521L571 521L571 520L571 520L571 519L572 519L572 518L573 518L573 517ZM570 522h1v1h-1zM582 522h1v1h-1zM576 516h1v1h-1zM576 528h1v1h-1z" fill="#e51e10" shape-rendering="crispEdges"/>
<path d="M584 517L584 518L585 518L585 519L586 519L586 520L586 520L586 521L586 521L586 522L586 522L586 523L586 523L586 524L586 524L586 525L586 525L586 526L585 526L585 527L584 527L584 528L577 528L577 527L576 527L576 526L575 526L575 525L575 525L575 524L575 524L575 523L575 523L575 522L575 522L575 521L575 521L575 520L575 520L575 519L576 519L576 518L577 518L577 517ZM574 522h1v1h-1zM586 522h1v1h-1zM580 516h1v1h-1zM580 528h1v1h-1z" fill="#e51e10" shape-rendering="crispEdges"/>
<path d="M617 517L617 518L618 518L618 519L619 519L619 520L619 520L619 521L619 521L619 522L619 522L619 523L619 523L619 524L619 524L619 525L619 525L619 526L618 526L618 527L617 527L617 528L610 528L610 527L609 527L609 526L608 526L608 525L608 525L608 524L608 524L608 523L608 523L608 522L608 522L608 521L608 521L608 520L608 520L608 519L609 519L609 518L610 518L610 517ZM607 522h1v1h-1zM619 522h1v1h-1zM613 516h1v1h-1zM613 528h1v1h-1z" fill="#e51e10" shape-rendering="crispEdges"/>
<path d="M621 517L621 518L622 518L622 519L623 519L623 520L623 520L623 521L623 521L623 522L623 522L623 523L623 523L623 524L623 524L623 525L623 525L623 526L622 526L622 527L621 527L621 528L614 528L614 527L613 527L613 526L612 526L612 525L612 525L612 524L612 524L612 523L612 523L612 522L612 522L612 521L612 521L612 520L612 520L612 519L613 519L613 518L614 518L614 517ZM611 522h1v1h-1zM623 522h1v1h-1zM617 516h1v1h-1zM617 528h1v1h-1z" fill="#e51e10" shape-rendering="crispEdges"/>
<path d="M654 517L654 518L655 518L655 519L656 519L656 520L656 520L656 521L656 521L656 522L656 522L656 523L656 523L656 524L656 524L656 525L656 525L656 526L655 526L655 527L654 527L654 528L647 528L647 527L646 527L646 526L645 526L645 525L645 525L645 524L645 524L645 523L645 523L645 522L645 522L645 521L645 521L645 520L645 520L645 519L646 519L646 518L647 518L647 517ZM644 522h1v1h-1zM656 522h1v1h-1zM650 516h1v1h-1zM650 528h1v1h-1z" fill="#e51e10" shape-rendering="crispEdges"/>
<path d="M659 517L659 518L660 518L660 519L661 519L661 520L661 520L661 521L661 521L661 522L661 522L661 523L661 523L661 524L661 524L661 525L661 525L661 526L660 526L660 527L659 527L659 528L652 528L652 527L651 527L651 526L650 526L650 525L650 525L650 524L650 524L650 523L650 523L650 522L650 522L650 521L650 521L650 520L650 520L650 519L651 519L651 518L652 518L652 517ZM649 522h1v1h-1zM661 522h1v1h-1zM655 516h1v1h-1zM655 528h1v1h-1z" fill="#e51e10" shape-rendering="crispEdges"/>
<path d="M692 517L692 518L693 518L693 519L694 519L694 520L694 520L694 521L694 521L694 522L694 522L694 523L694 523L694 524L694 524L694 525L694 525L694 526L693 526L693 527L692 527L692 528L685 528L685 527L684 527L684 526L683 526L683 525L683 525L683 524L683 524L683 523L683 523L683 522L683 522L683 521L683 521L683 520L683 520L683 519L684 519L684 518L685 518L685 517ZM682 522h1v1h-1zM694 522h1v1h-1zM688 516h1v1h-1zM688 528h1v1h-1z" fill="#e51e10" shape-rendering="crispEdges"/>
<path d="M696 517L696 518L697 518L697 519L698 519L698 520L698 520L698 521L698 521L698 522L698 522L698 523L698 523L698 524L698 524L698 525L698 525L698 526L697 526L697 527L696 527L696 528L689 528L689 527L688 527L688 526L687 526L687 525L687 525L687 524L687 524L687 523L687 523L687 522L687 522L687 521L687 521L687 520L687 520L687 519L688 519L688 518L689 518L689 517ZM686 522h1v1h-1zM698 522h1v1h-1zM692 516h1v1h-1zM692 528h1v1h-1z" fill="#e51e10" shape-rendering="crispEdges"/>
<path d="M729 517L729 518L730 518L730 519L731 519L731 520L731 520L731 521L731 521L731 522L731 522L731 523L731 523L731 524L731 524L731 525L731 525L731 526L730 526L730 527L729 527L729 528L722 528L722 527L721 527L721 526L720 526L720 525L720 525L720 524L720 524L720 523L720 523L720 522L720 522L720 521L720 521L720 520L720 520L720 519L721 519L721 518L722 518L722 517ZM719 522h1v1h-1zM731 522h1v1h-1zM725 516h1v1h-1zM725 528h1v1h-1z" fill="#e51e10" shape-rendering="crispEdges"/>
<path d="M734 517L734 518L735 518L735 519L736 519L736 520L736 520L736 521L736 521L736 522L736 522L736 523L736 523L736 524L736 524L736 525L736 525L736 526L735 526L735 527L734 527L734 528L727 528L727 527L726 527L726 526L725 526L725 525L725 525L725 524L725 524L725 523L725 523L725 522L725 522L725 521L725 521L725 520L725 520L725 519L726 519L726 518L727 518L727 517ZM724 522h1v1h-1zM736 522h1v1h-1zM730 516h1v1h-1zM730 528h1v1h-1z" fill="#e51e10" shape-rendering="crispEdges"/>
<path d="M766 517L766 518L767 518L767 519L768 519L768 520L768 520L768 521L768 521L768 522L768 522L768 523L768 523L768 524L768 524L768 525L768 525L768 526L767 526L767 527L766 527L766 528L759 528L759 527L758 527L758 526L757 526L757 525L757 525L757 524L757 524L757 523L757 523L757 522L757 522L757 521L757 521L757 520L757 520L757 519L758 519L758 518L759 518L759 517ZM756 522h1v1h-1zM768 522h1v1h-1zM762 516h1v1h-1zM762 528h1v1h-1z" fill="#e51e10" shape-rendering="crispEdges"/>
<path d="M770 517L770 518L771 518L771 519L772 519L772 520L772 520L772 521L772 521L772 522L772 522L772 523L772 523L772 524L772 524L772 525L772 525L772 526L771 526L771 527L770 527L770 528L763 528L763 527L762 527L762 526L761 526L761 525L761 525L761 524L761 524L761 523L761 523L761 522L761 522L761 521L761 521L761 520L761 520L761 519L762 519L762 518L763 518L763 517ZM760 522h1v1h-1zM772 522h1v1h-1zM766 516h1v1h-1zM766 528h1v1h-1z" fill="#e51e10" shape-rendering="crispEdges"/>
<path d="M803 517L803 518L804 518L804 519L805 519L805 520L805 520L805 521L805 521L805 522L805 522L805 523L805 523L805 524L805 524L805 525L805 525L805 526L804 526L804 527L803 527L803 528L796 528L796 527L795 527L795 526L794 526L794 525L794 525L794 524L794 524L794 523L794 523L794 522L794 522L794 521L794 521L794 520L794 520L794 519L795 519L795 518L796 518L796 517ZM793 522h1v1h-1zM805 522h1v1h-1zM799 516h1v1h-1zM799 528h1v1h-1z" fill="#e51e10" shape-rendering="crispEdges"/>
<path d="M808 517L808 518L809 518L809 519L810 519L810 520L810 520L810 521L810 521L810 522L810 522L810 523L810 523L810 524L810 524L810 525L810 525L810 526L809 526L809 527L808 527L808 528L801 528L801 527L800 527L800 526L799 526L799 525L799 525L799 524L799 524L799 523L799 523L799 522L799 522L799 521L799 521L799 520L799 520L799 519L800 519L800 518L801 518L801 517ZM798 522h1v1h-1zM810 522h1v1h-1zM804 516h1v1h-1zM804 528h1v1h-1z" fill="#e51e10" shape-rendering="crispEdges"/>
<path d="M841 517L841 518L842 518L842 519L843 519L843 520L843 520L843 521L843 521L843 522L843 522L843 523L843 523L843 524L843 524L843 525L843 525L843 526L842 526L842 527L841 527L841 528L834 528L834 527L833 527L833 526L832 526L832 525L832 525L832 524L832 524L832 523L832 523L832 522L832 522L832 521L832 521L832 520L832 520L832 519L833 519L833 518L834 518L834 517ZM831 522h1v1h-1zM843 522h1v1h-1zM837 516h1v1h-1zM837 528h1v1h-1z" fill="#e51e10" shape-rendering="crispEdges"/>
<path d="M845 517L845 518L846 518L846 519L847 519L847 520L847 520L847 521L847 521L847 522L847 522L847 523L847 523L847 524L847 524L847 525L847 525L847 526L846 526L846 527L845 527L845 528L838 528L838 527L837 527L837 526L836 526L836 525L836 525L836 524L836 524L836 523L836 523L836 522L836 522L836 521L836 521L836 520L836 520L836 519L837 519L837 518L838 518L838 517ZM835 522h1v1h-1zM847 522h1v1h-1zM841 516h1v1h-1zM841 528h1v1h-1z" fill="#e51e10" shape-rendering="crispEdges"/>
<path d="M878 517L878 518L879 518L879 519L880 519L880 520L880 520L880 521L880 521L880 522L880 522L880 523L880 523L880 524L880 524L880 525L880 525L880 526L879 526L879 527L878 527L878 528L871 528L871 527L870 527L870 526L869 526L869 525L869 525L869 524L869 524L869 523L869 523L869 522L869 522L869 521L869 521L869 520L869 520L869 519L870 519L870 518L871 518L871 517ZM868 522h1v1h-1zM880 522h1v1h-1zM874 516h1v1h-1zM874 528h1v1h-1z" fill="#e51e10" shape-rendering="crispEdges"/>
<path d="M882 517L882 518L883 518L883 519L884 519L884 520L884 520L884 521L884 521L884 522L884 522L884 523L884 523L884 524L884 524L884 525L884 525L884 526L883 526L883 527L882 527L882 528L875 528L875 527L874 527L874 526L873 526L873 525L873 525L873 524L873 524L873 523L873 523L873 522L873 522L873 521L873 521L873 520L873 520L873 519L874 519L874 518L875 518L875 517ZM872 522h1v1h-1zM884 522h1v1h-1zM878 516h1v1h-1zM878 528h1v1h-1z" fill="#e51e10" shape-rendering="crispEdges"/>
<path d="M915 517L915 518L916 518L916 519L917 519L917 520L917 520L917 521L917 521L917 522L917 522L917 523L917 523L917 524L917 524L917 525L917 525L917 526L916 526L916 527L915 527L915 528L908 528L908 527L907 527L907 526L906 526L906 525L906 525L906 524L906 524L906 523L906 523L906 522L906 522L906 521L906 521L906 520L906 520L906 519L907 519L907 518L908 518L908 517ZM905 522h1v1h-1zM917 522h1v1h-1zM911 516h1v1h-1zM911 528h1v1h-1z" fill="#e51e10" shape-rendering="crispEdges"/>
<path d="M920 517L920 518L921 518L921 519L922 519L922 520L922 520L922 521L922 521L922 522L922 522L922 523L922 523L922 524L922 524L922 525L922 525L922 526L921 526L921 527L920 527L920 528L913 528L913 527L912 527L912 526L911 526L911 525L911 525L911 524L911 524L911 523L911 523L911 522L911 522L911 521L911 521L911 520L911 520L911 519L912 519L912 518L913 518L913 517ZM910 522h1v1h-1zM922 522h1v1h-1zM916 516h1v1h-1zM916 528h1v1h-1z" fill="#e51e10" shape-rendering="crispEdges"/>
<path d="M953 517L953 518L954 518L954 519L955 519L955 520L955 520L955 521L955 521L955 522L955 522L955 523L955 523L955 524L955 524L955 525L955 525L955 526L954 526L954 527L953 527L953 528L946 528L946 527L945 527L945 526L944 526L944 525L944 525L944 524L944 524L944 523L944 523L944 522L944 522L944 521L944 521L944 520L944 520L944 519L945 519L945 518L946 518L946 517ZM943 522h1v1h-1zM955 522h1v1h-1zM949 516h1v1h-1zM949 528h1v1h-1z" fill="#e51e10" shape-rendering="crispEdges"/>
<path d="M957 517L957 518L958 518L958 519L959 519L959 520L959 520L959 521L959 521L959 522L959 522L959 523L959 523L959 524L959 524L959 525L959 525L959 526L958 526L958 527L957 527L957 528L950 528L950 527L949 527L949 526L948 526L948 525L948 525L948 524L948 524L948 523L948 523L948 522L948 522L948 521L948 521L948 520L948 520L948 519L949 519L949 518L950 518L950 517ZM947 522h1v1h-1zM959 522h1v1h-1zM953 516h1v1h-1zM953 528h1v1h-1z" fill="#e51e10" shape-rendering="crispEdges"/>
<path d="M990 517L990 518L991 518L991 519L992 519L992 520L992 520L992 521L992 521L992 522L992 522L992 523L992 523L992 524L992 524L992 525L992 525L992 526L991 526L991 527L990 527L990 528L983 528L983 527L982 527L982 526L981 526L981 525L981 525L981 524L981 524L981 523L981 523L981 522L981 522L981 521L981 521L981 520L981 520L981 519L982 519L982 518L983 518L983 517ZM980 522h1v1h-1zM992 522h1v1h-1zM986 516h1v1h-1zM986 528h1v1h-1z" fill="#e51e10" shape-rendering="crispEdges"/>
<path d="M169.5 444.5L177.5 456.5H161.5Z" fill="none" stroke="#000" stroke-width="1" shape-rendering="crispEdges"/>
<path d="M163.0 413.5h13M169.5 407.0v13" stroke="#9400d3" stroke-width="1" fill="none" shape-rendering="crispEdges"/>
<rect x="94.5" y="74.5" width="895" height="448" shape-rendering="crispEdges" stroke="#000" stroke-width="1" fill="none"/>
<text id="title" x="539.50" y="49" text-anchor="middle">pi24 Jan 07  near/far ICMP/TCP ping and curl times [No msmt 1AM-2AM]</text>
<text id="y0" x="80.80" y="526" text-anchor="end">0</text>
<text id="y500" x="80.80" y="417" text-anchor="end">500</text>
<text id="y1000" x="80.80" y="307" text-anchor="end">1000</text>
<text id="y1500" x="80.80" y="198" text-anchor="end">1500</text>
<text id="y2000" x="80.80" y="89" text-anchor="end">2000</text>
<text id="x0" x="92.00" y="544.5" text-anchor="middle">00:00</text>
<text id="x2" x="166.98" y="544.5" text-anchor="middle">02:00</text>
<text id="x4" x="240.87" y="544.5" text-anchor="middle">04:00</text>
<text id="x6" x="316.05" y="544.5" text-anchor="middle">06:00</text>
<text id="x8" x="390.03" y="544.5" text-anchor="middle">08:00</text>
<text id="x10" x="466.12" y="544.5" text-anchor="middle">10:00</text>
<text id="x12" x="540.90" y="544.5" text-anchor="middle">12:00</text>
<text id="x14" x="615.38" y="544.5" text-anchor="middle">14:00</text>
<text id="x16" x="690.17" y="544.5" text-anchor="middle">16:00</text>
<text id="x18" x="764.25" y="544.5" text-anchor="middle">18:00</text>
<text id="x20" x="839.03" y="544.5" text-anchor="middle">20:00</text>
<text id="x22" x="913.42" y="544.5" text-anchor="middle">22:00</text>
<text id="x24" x="987.00" y="544.5" text-anchor="middle">00:00</text>
<text id="leg0" x="911.23" y="94.4" text-anchor="end" textLength="182.66" lengthAdjust="spacing">&quot;Ypingresult.txt&quot; using 1:2</text>
<text id="leg1" x="911.20" y="113.4" text-anchor="end" textLength="199.82" lengthAdjust="spacing">&quot;YTimetcpping.txt&quot; using 1:2</text>
<text id="leg2" x="911.23" y="132.4" text-anchor="end" textLength="249.48" lengthAdjust="spacing">&quot;YCustPingSiteTimes.txt&quot; using 1:2</text>
<text id="leg3" x="910.61" y="151.4" text-anchor="end" textLength="194.69" lengthAdjust="spacing">&quot;Yofflineresult.txt&quot; using 1:2</text>
<text id="leg4" x="911.23" y="170.4" text-anchor="end" textLength="206.87" lengthAdjust="spacing">&quot;Ytcpoff_record.txt&quot; using 1:2</text>
<text id="leg5" x="911.24" y="189.4" text-anchor="end" textLength="218.02" lengthAdjust="spacing">&quot;Ygooglecurltime.txt&quot; using 1:2</text>
<text id="leg6" x="911.25" y="208.4" text-anchor="end" textLength="244.26" lengthAdjust="spacing">&quot;Ygooglecurldnstime.txt&quot; using 1:2</text>
<text id="leg7" x="910.61" y="227.4" text-anchor="end" textLength="235.68" lengthAdjust="spacing">&quot;YCustPingTimeout.txt&quot; using 1:2</text>
<text id="leg8" x="910.65" y="246.4" text-anchor="end" textLength="205.61" lengthAdjust="spacing">&quot;YHPpingresult.txt&quot; using 1:2</text>
<text id="ann0" x="116.00" y="96" textLength="513.79" lengthAdjust="spacing">near ICMP delays -Ypingresult- 64.98.10.176 hop# LOCK 1 ping/min---&gt;</text>
<text id="ann1" x="116.00" y="114" textLength="346.94" lengthAdjust="spacing">TCP ping delays -YTimetcpping- Top100Web---&gt;</text>
<text id="ann2" x="116.00" y="132" textLength="313.28" lengthAdjust="spacing">deep ICMP delays -YCustPingSiteTimes---&gt;</text>
<text id="ann3" x="116.00" y="150" textLength="390.78" lengthAdjust="spacing">curl target delay via www.google.com (max 4s allowed)</text>
<text id="ann4" x="116.00" y="168" textLength="315.16" lengthAdjust="spacing">google.com DNS query time via 192.168.4.1</text>
<text id="ann5" x="116.00" y="186" textLength="222.39" lengthAdjust="spacing">LastBoot: 2023-01-02 13:40:18</text>
<text id="ann7" x="116.00" y="221" textLength="359.51" lengthAdjust="spacing">at 220-&gt; TCP ping failed while online [ignore 2AM]</text>
<text id="ann8" x="116.00" y="239" textLength="385.32" lengthAdjust="spacing">at 320-&gt; deep (customer) ICMP timeouts [ignore 2AM]</text>
<text id="ann10" x="152.00" y="275" textLength="330.28" lengthAdjust="spacing">#vertical tick represents ping timeouts in 1 min</text>
<text id="ann6a" x="116.00" y="203">at 450-&gt;</text>
<text id="ann6b" x="183.00" y="203" class="b" textLength="67.86" lengthAdjust="spacing">OFFLINE</text>
<text id="ann6c" x="256.57" y="203" textLength="279.97" lengthAdjust="spacing">-near ICMP+TCP ping fail [ignore 2AM]</text>
<text id="ann9a" x="110.54" y="257" textLength="78.70" lengthAdjust="spacing">start 500-&gt;</text>
<text id="ann9b" x="197.50" y="257" class="b" textLength="216.43" lengthAdjust="spacing">EXCESS ICMP ping timeouts</text>
<text id="ann9c" x="420.79" y="257" textLength="167.58" lengthAdjust="spacing">ping rate at 6 pings/min</text>
<text id="low0" x="179.00" y="410" textLength="216.45" lengthAdjust="spacing">(500)Hyperping Timeouts ----&gt;</text>
<text id="low1" x="179.00" y="427" textLength="199.80" lengthAdjust="spacing">(450)OFFLINE STATE -----&gt;</text>
<text id="low2" x="179.00" y="445" textLength="218.77" lengthAdjust="spacing">(400)Reboot/powercycle? ----&gt;</text>
<text id="low3" x="179.00" y="463" textLength="224.87" lengthAdjust="spacing">(320)Deep ICMP Timeouts ----&gt;</text>
<text id="low4" x="179.00" y="481" textLength="215.48" lengthAdjust="spacing">(220)TCP ping Timeouts -----&gt;</text>
<text id="xlabel" y="573"><tspan x="182.7" textLength="69.0">&lt;-START </tspan><tspan x="251.7" textLength="18.4">at </tspan><tspan x="270.1" textLength="36.2">2AM </tspan><tspan x="306.4">Y</tspan><tspan x="318.7" textLength="32.0">day, </tspan><tspan x="350.7" textLength="36.7">right </tspan><tspan x="387.4" textLength="18.2">to </tspan><tspan x="405.6" textLength="45.5">12AM </tspan><tspan x="451.1" textLength="59.6">Tday-&gt;, </tspan><tspan x="510.7" textLength="35.5">then </tspan><tspan x="546.2" textLength="38.6">wrap </tspan><tspan x="584.8" textLength="27.1">left </tspan><tspan x="611.9" textLength="18.4">to </tspan><tspan x="630.3" textLength="36.4">1AM </tspan><tspan x="666.7" textLength="54.3">Tday&lt;- </tspan><tspan x="721.0" textLength="53.7">[ignore </tspan><tspan x="774.7" textLength="83.0">connecting </tspan><tspan x="857.7">lines]</tspan></text>
<text id="ylabel" transform="translate(17,299) rotate(-90)" text-anchor="middle">msec</text>
<g shape-rendering="crispEdges" fill="none" stroke-width="1">
<path d="M923 90.5h47" stroke="#9400d3"/><path d="M923 109.5h47" stroke="#009e73"/><path d="M923 128.5h47" stroke="#56b4e9"/>
</g>
<rect x="940.5" y="141.5" width="12" height="12" fill="none" stroke="#e69f00" stroke-width="1" shape-rendering="crispEdges"/>
<rect x="940.0" y="160.0" width="13" height="13" fill="#f0e442" shape-rendering="crispEdges"/>
<path d="M950 180L950 181L951 181L951 182L952 182L952 183L952 183L952 184L952 184L952 185L952 185L952 186L952 186L952 187L952 187L952 188L952 188L952 189L951 189L951 190L950 190L950 191L943 191L943 190L942 190L942 189L941 189L941 188L941 188L941 187L941 187L941 186L941 186L941 185L941 185L941 184L941 184L941 183L941 183L941 182L942 182L942 181L943 181L943 180ZM949 181L949 182L950 182L950 183L951 183L951 184L951 184L951 185L951 185L951 186L951 186L951 187L951 187L951 188L950 188L950 189L949 189L949 190L944 190L944 189L943 189L943 188L942 188L942 187L942 187L942 186L942 186L942 185L942 185L942 184L942 184L942 183L943 183L943 182L944 182L944 181ZM940 185h1v1h-1zM952 185h1v1h-1zM946 179h1v1h-1zM946 191h1v1h-1z" fill="#0072b2" fill-rule="evenodd" shape-rendering="crispEdges"/>
<path d="M950 199L950 200L951 200L951 201L952 201L952 202L952 202L952 203L952 203L952 204L952 204L952 205L952 205L952 206L952 206L952 207L952 207L952 208L951 208L951 209L950 209L950 210L943 210L943 209L942 209L942 208L941 208L941 207L941 207L941 206L941 206L941 205L941 205L941 204L941 204L941 203L941 203L941 202L941 202L941 201L942 201L942 200L943 200L943 199ZM940 204h1v1h-1zM952 204h1v1h-1zM946 198h1v1h-1zM946 210h1v1h-1z" fill="#e51e10" shape-rendering="crispEdges"/>
<path d="M946.5 215.5L954.5 227.5H938.5Z" fill="none" stroke="#000" stroke-width="1" shape-rendering="crispEdges"/>
<path d="M940.0 242.5h13M946.5 236.0v13" stroke="#9400d3" stroke-width="1" fill="none" shape-rendering="crispEdges"/>
</svg></body></html>
